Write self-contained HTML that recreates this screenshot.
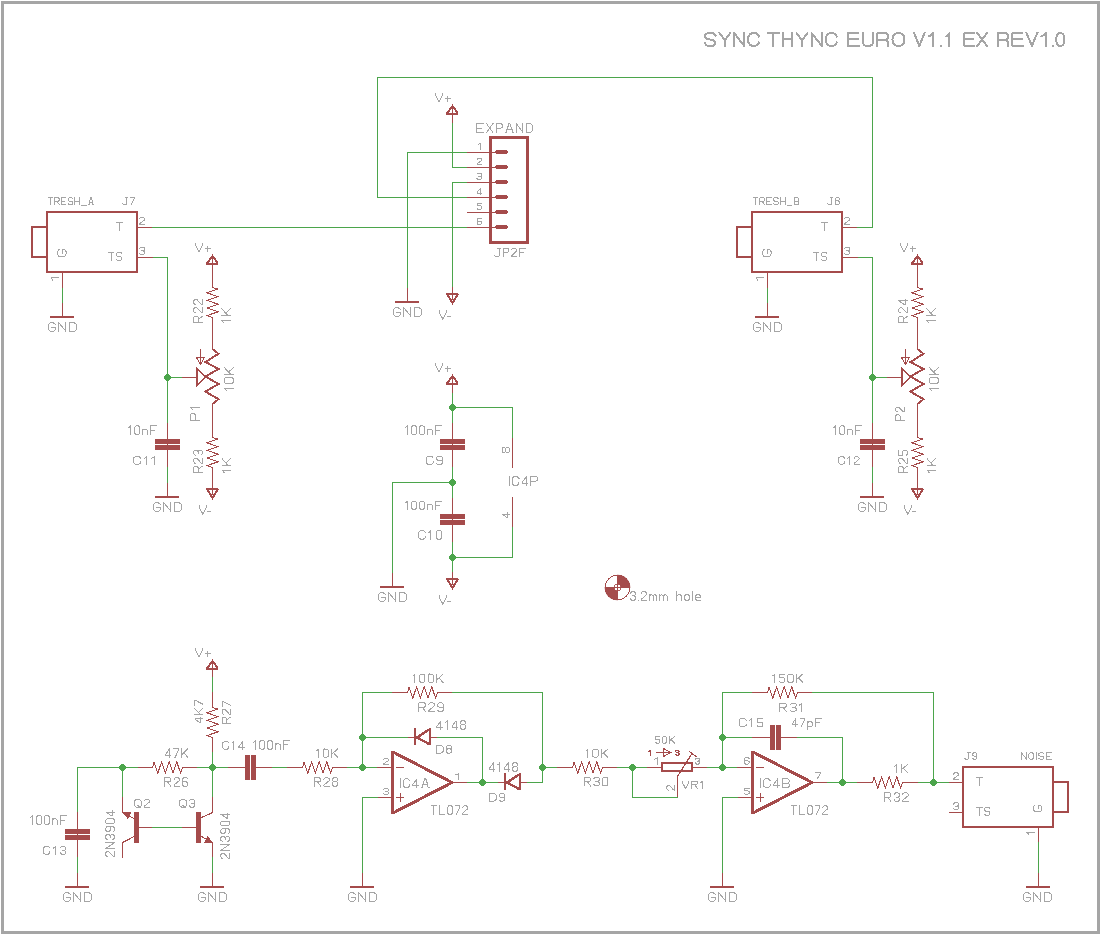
<!DOCTYPE html>
<html><head><meta charset="utf-8"><style>
html,body{margin:0;padding:0;background:#fff;}
body{width:1100px;height:935px;overflow:hidden;position:relative;}
svg{position:absolute;left:0;top:0;}
.t{position:absolute;font-family:"Liberation Sans",sans-serif;color:#A5A5A5;white-space:nowrap;}
</style></head><body>
<svg width="1100" height="935" viewBox="0 0 1100 935" shape-rendering="crispEdges">
<rect x="1" y="1" width="1099" height="3" fill="#A5A5A5"/>
<rect x="1" y="931" width="1099" height="3" fill="#A5A5A5"/>
<rect x="1" y="1" width="3" height="933" fill="#A5A5A5"/>
<rect x="1097" y="1" width="3" height="933" fill="#A5A5A5"/>
<rect x="46" y="211" width="92" height="2" fill="#A54B4B"/>
<rect x="46" y="271" width="92" height="2" fill="#A54B4B"/>
<rect x="46" y="211" width="2" height="62" fill="#A54B4B"/>
<rect x="136" y="211" width="2" height="62" fill="#A54B4B"/>
<rect x="31" y="226" width="17" height="2" fill="#A54B4B"/>
<rect x="31" y="256" width="17" height="2" fill="#A54B4B"/>
<rect x="31" y="226" width="2" height="32" fill="#A54B4B"/>
<rect x="137" y="227" width="16" height="1" fill="#A54B4B"/>
<rect x="137" y="257" width="16" height="1" fill="#A54B4B"/>
<rect x="62" y="272" width="1" height="16" fill="#A54B4B"/>
<path d="M48.10 197.70 L52.57 197.70 M50.34 197.70 L50.34 204.70 M54.81 204.70 L54.81 197.70 L58.38 197.70 L59.28 198.57 L59.28 200.32 L58.38 201.20 L54.81 201.20 M57.04 201.20 L59.28 204.70 M65.98 197.70 L61.51 197.70 L61.51 204.70 L65.98 204.70 M61.51 201.20 L64.64 201.20 M72.69 198.57 L71.79 197.70 L69.11 197.70 L68.22 198.57 L68.22 200.32 L69.11 201.20 L71.79 201.20 L72.69 202.07 L72.69 203.82 L71.79 204.70 L69.11 204.70 L68.22 203.82 M74.92 197.70 L74.92 204.70 M79.39 197.70 L79.39 204.70 M74.92 201.20 L79.39 201.20 M81.63 205.57 L86.10 205.57 M88.34 204.70 L89.05 204.70 L89.23 202.51 L90.66 197.70 L91.38 197.70 L92.81 202.51 L92.98 204.70 L93.70 204.70 M89.23 202.51 L92.81 202.51" fill="none" stroke="#A5A5A5" stroke-width="1.0" stroke-linecap="square" stroke-linejoin="round"/>
<path d="M125.17 197.70 L127.84 197.70 M126.60 197.70 L126.60 203.82 L125.58 204.70 L123.53 204.70 L122.50 203.65 M130.20 197.70 L134.30 197.70 L134.30 198.57 L131.22 204.70" fill="none" stroke="#A5A5A5" stroke-width="1.0" stroke-linecap="square" stroke-linejoin="round"/>
<path d="M116.50 222.30 L122.20 222.30 M119.35 222.30 L119.35 230.50" fill="none" stroke="#A5A5A5" stroke-width="1.0" stroke-linecap="square" stroke-linejoin="round"/>
<path d="M108.80 252.30 L113.96 252.30 M111.38 252.30 L111.38 260.50 M121.70 253.33 L120.67 252.30 L117.57 252.30 L116.54 253.33 L116.54 255.38 L117.57 256.40 L120.67 256.40 L121.70 257.43 L121.70 259.48 L120.67 260.50 L117.57 260.50 L116.54 259.48" fill="none" stroke="#A5A5A5" stroke-width="1.0" stroke-linecap="square" stroke-linejoin="round"/>
<path d="M59.09 249.50 L57.50 251.46 L57.50 254.40 L59.09 256.50 L64.41 256.50 L66.00 254.40 L66.00 251.46 L64.51 249.50 L62.28 249.50 L62.28 253.00" fill="none" stroke="#A5A5A5" stroke-width="1.0" stroke-linecap="square" stroke-linejoin="round"/>
<path d="M139.30 218.94 L139.30 218.40 L140.65 217.50 L143.35 217.50 L144.70 218.40 L144.70 220.02 L139.30 223.80 L139.30 224.70 L144.70 224.70" fill="none" stroke="#A5A5A5" stroke-width="1.0" stroke-linecap="square" stroke-linejoin="round"/>
<path d="M139.30 248.56 L140.65 247.30 L143.35 247.30 L144.70 248.20 L144.70 250.00 L143.35 250.90 L141.32 250.90 M143.35 250.90 L144.70 251.80 L144.70 253.60 L143.35 254.50 L140.65 254.50 L139.30 253.24" fill="none" stroke="#A5A5A5" stroke-width="1.0" stroke-linecap="square" stroke-linejoin="round"/>
<path d="M52.59 280.20 L51.47 277.20 M51.00 277.20 L58.50 277.20" fill="none" stroke="#A5A5A5" stroke-width="1.0" stroke-linecap="square" stroke-linejoin="round"/>
<rect x="62" y="288" width="1" height="15" fill="#4BA54B"/>
<rect x="62" y="303" width="1" height="15" fill="#A54B4B"/>
<rect x="50" y="316" width="24" height="2" fill="#A54B4B"/>
<path d="M55.35 324.39 L53.38 322.80 L50.41 322.80 L48.30 324.39 L48.30 329.71 L50.41 331.30 L53.38 331.30 L55.35 329.81 L55.35 327.58 L51.82 327.58 M58.88 331.30 L58.88 322.80 L65.92 331.30 L65.92 322.80 M69.45 322.80 L74.38 322.80 L76.50 324.39 L76.50 329.71 L74.38 331.30 L69.45 331.30 L69.45 322.80" fill="none" stroke="#A5A5A5" stroke-width="1.0" stroke-linecap="square" stroke-linejoin="round"/>
<rect x="153" y="257" width="15" height="1" fill="#4BA54B"/>
<rect x="167" y="257" width="1" height="166" fill="#4BA54B"/>
<rect x="167" y="377" width="16" height="1" fill="#4BA54B"/>
<rect x="166" y="374" width="3" height="1" fill="#4BA54B"/>
<rect x="165" y="375" width="5" height="1" fill="#4BA54B"/>
<rect x="164" y="376" width="7" height="3" fill="#4BA54B"/>
<rect x="165" y="379" width="5" height="1" fill="#4BA54B"/>
<rect x="166" y="380" width="3" height="1" fill="#4BA54B"/>
<rect x="167" y="423" width="1" height="44" fill="#A54B4B"/>
<rect x="155" y="439" width="25" height="5" fill="#A54B4B"/>
<rect x="155" y="445" width="25" height="5" fill="#A54B4B"/>
<rect x="167" y="467" width="1" height="16" fill="#4BA54B"/>
<rect x="167" y="483" width="1" height="15" fill="#A54B4B"/>
<rect x="155" y="496" width="24" height="2" fill="#A54B4B"/>
<path d="M160.35 504.39 L158.38 502.80 L155.42 502.80 L153.30 504.39 L153.30 509.71 L155.42 511.30 L158.38 511.30 L160.35 509.81 L160.35 507.58 L156.83 507.58 M163.88 511.30 L163.88 502.80 L170.93 511.30 L170.93 502.80 M174.45 502.80 L179.38 502.80 L181.50 504.39 L181.50 509.71 L179.38 511.30 L174.45 511.30 L174.45 502.80" fill="none" stroke="#A5A5A5" stroke-width="1.0" stroke-linecap="square" stroke-linejoin="round"/>
<path d="M128.50 427.69 L130.29 426.42 M130.29 425.90 L130.29 434.30 M136.02 425.90 L138.40 425.90 L139.60 426.95 L139.60 433.25 L138.40 434.30 L136.02 434.30 L134.82 433.25 L134.82 426.95 L136.02 425.90 M142.58 429.05 L142.58 434.30 M142.58 430.10 L143.77 429.05 L146.16 429.05 L147.35 430.10 L147.35 434.30 M156.30 425.90 L150.33 425.90 L150.33 434.30 M150.33 430.10 L154.51 430.10" fill="none" stroke="#A5A5A5" stroke-width="1.0" stroke-linecap="square" stroke-linejoin="round"/>
<path d="M140.67 458.24 L138.95 456.60 L135.65 456.60 L133.50 458.04 L133.50 462.86 L135.65 464.30 L138.52 464.30 L140.67 462.86 L140.67 461.89 M144.25 458.24 L146.40 457.08 M146.40 456.60 L146.40 464.30 M151.85 458.24 L154.00 457.08 M154.00 456.60 L154.00 464.30" fill="none" stroke="#A5A5A5" stroke-width="1.0" stroke-linecap="square" stroke-linejoin="round"/>
<rect x="212" y="256" width="1" height="17" fill="#A54B4B"/>
<rect x="206" y="263" width="12" height="2" fill="#A54B4B"/>
<polyline points="207.00,263.50 212.50,256.00 218.00,263.50" fill="none" stroke="#A54B4B" stroke-width="2.0" />
<path d="M195.70 243.50 L195.70 245.11 L198.99 252.10 L202.28 245.11 L202.28 243.50 M205.21 248.88 L210.50 248.88 M207.86 246.19 L207.86 251.56" fill="none" stroke="#A5A5A5" stroke-width="1.0" stroke-linecap="square" stroke-linejoin="round"/>
<rect x="212" y="272" width="1" height="16" fill="#A54B4B"/>
<polyline points="212.50,287.50 218.10,289.00 206.90,292.80 218.10,296.60 206.90,300.40 218.10,304.20 206.90,308.00 218.10,311.80 206.90,315.60 212.50,317.50" fill="none" stroke="#A54B4B" stroke-width="1.0" />
<rect x="212" y="317" width="1" height="33" fill="#A54B4B"/>
<polyline points="212.50,349.00 218.50,353.80 205.50,362.00 218.50,369.00 205.50,376.60 218.50,384.00 205.50,391.60 218.50,399.20 212.50,404.00" fill="none" stroke="#A54B4B" stroke-width="2.0" />
<rect x="212" y="404" width="1" height="34" fill="#A54B4B"/>
<polyline points="212.50,437.50 218.10,439.00 206.90,442.80 218.10,446.60 206.90,450.40 218.10,454.20 206.90,458.00 218.10,461.80 206.90,465.60 212.50,467.50" fill="none" stroke="#A54B4B" stroke-width="1.0" />
<rect x="212" y="467" width="1" height="16" fill="#A54B4B"/>
<rect x="212" y="482" width="1" height="13" fill="#A54B4B"/>
<rect x="206" y="488" width="12" height="2" fill="#A54B4B"/>
<polyline points="207.00,489.00 212.50,498.00 218.00,489.00" fill="none" stroke="#A54B4B" stroke-width="2.0" />
<path d="M199.30 505.70 L199.30 507.27 L202.78 514.10 L206.27 507.27 L206.27 505.70 M207.76 511.48 L210.50 511.48" fill="none" stroke="#A5A5A5" stroke-width="1.0" stroke-linecap="square" stroke-linejoin="round"/>
<rect x="182" y="377" width="15" height="1" fill="#A54B4B"/>
<polygon points="197.00,368.50 197.00,385.50 205.50,377.00" fill="none" stroke="#A54B4B" stroke-width="2.0" />
<rect x="200" y="349" width="1" height="15" fill="#A54B4B"/>
<polygon points="196.50,357.50 204.50,357.50 200.50,364.50" fill="none" stroke="#A54B4B" stroke-width="1.0" />
<path d="M202.80 322.40 L193.70 322.40 L193.70 317.31 L194.84 316.04 L197.11 316.04 L198.25 317.31 L198.25 322.40 M198.25 319.22 L202.80 316.04 M195.52 312.86 L194.84 312.86 L193.70 311.59 L193.70 309.04 L194.84 307.77 L196.88 307.77 L201.66 312.86 L202.80 312.86 L202.80 307.77 M195.52 304.59 L194.84 304.59 L193.70 303.32 L193.70 300.77 L194.84 299.50 L196.88 299.50 L201.66 304.59 L202.80 304.59 L202.80 299.50" fill="none" stroke="#A5A5A5" stroke-width="1.0" stroke-linecap="square" stroke-linejoin="round"/>
<path d="M223.43 322.50 L222.07 320.46 M221.50 320.46 L230.60 320.46 M221.50 315.30 L230.60 315.30 M221.50 308.50 L227.76 315.30 M225.82 312.85 L230.60 308.50" fill="none" stroke="#A5A5A5" stroke-width="1.0" stroke-linecap="square" stroke-linejoin="round"/>
<path d="M226.25 390.50 L224.88 388.45 M224.30 388.45 L233.50 388.45 M224.30 381.88 L224.30 379.14 L225.45 377.77 L232.35 377.77 L233.50 379.14 L233.50 381.88 L232.35 383.24 L225.45 383.24 L224.30 381.88 M224.30 374.35 L233.50 374.35 M224.30 367.50 L230.62 374.35 M228.67 371.88 L233.50 367.50" fill="none" stroke="#A5A5A5" stroke-width="1.0" stroke-linecap="square" stroke-linejoin="round"/>
<path d="M199.50 420.40 L190.60 420.40 L190.60 414.58 L191.71 413.12 L193.94 413.12 L195.05 414.58 L195.05 420.40 M192.49 409.48 L191.16 407.30 M190.60 407.30 L199.50 407.30" fill="none" stroke="#A5A5A5" stroke-width="1.0" stroke-linecap="square" stroke-linejoin="round"/>
<path d="M202.40 472.40 L193.70 472.40 L193.70 467.47 L194.79 466.23 L196.96 466.23 L198.05 467.47 L198.05 472.40 M198.05 469.32 L202.40 466.23 M195.44 463.15 L194.79 463.15 L193.70 461.92 L193.70 459.45 L194.79 458.22 L196.75 458.22 L201.31 463.15 L202.40 463.15 L202.40 458.22 M195.22 455.13 L193.70 453.90 L193.70 451.43 L194.79 450.20 L196.96 450.20 L198.05 451.43 L198.05 453.28 M198.05 451.43 L199.14 450.20 L201.31 450.20 L202.40 451.43 L202.40 453.90 L200.88 455.13" fill="none" stroke="#A5A5A5" stroke-width="1.0" stroke-linecap="square" stroke-linejoin="round"/>
<path d="M223.88 472.40 L222.62 470.40 M222.10 470.40 L230.50 470.40 M222.10 465.35 L230.50 465.35 M222.10 458.70 L227.88 465.35 M226.09 462.96 L230.50 458.70" fill="none" stroke="#A5A5A5" stroke-width="1.0" stroke-linecap="square" stroke-linejoin="round"/>
<rect x="751" y="211" width="92" height="2" fill="#A54B4B"/>
<rect x="751" y="271" width="92" height="2" fill="#A54B4B"/>
<rect x="751" y="211" width="2" height="62" fill="#A54B4B"/>
<rect x="841" y="211" width="2" height="62" fill="#A54B4B"/>
<rect x="736" y="226" width="17" height="2" fill="#A54B4B"/>
<rect x="736" y="256" width="17" height="2" fill="#A54B4B"/>
<rect x="736" y="226" width="2" height="32" fill="#A54B4B"/>
<rect x="842" y="227" width="16" height="1" fill="#A54B4B"/>
<rect x="842" y="257" width="16" height="1" fill="#A54B4B"/>
<rect x="767" y="272" width="1" height="16" fill="#A54B4B"/>
<path d="M753.10 197.70 L757.66 197.70 M755.38 197.70 L755.38 204.70 M759.94 204.70 L759.94 197.70 L763.59 197.70 L764.50 198.57 L764.50 200.32 L763.59 201.20 L759.94 201.20 M762.22 201.20 L764.50 204.70 M771.34 197.70 L766.78 197.70 L766.78 204.70 L771.34 204.70 M766.78 201.20 L769.97 201.20 M778.18 198.57 L777.27 197.70 L774.53 197.70 L773.62 198.57 L773.62 200.32 L774.53 201.20 L777.27 201.20 L778.18 202.07 L778.18 203.82 L777.27 204.70 L774.53 204.70 L773.62 203.82 M780.46 197.70 L780.46 204.70 M785.02 197.70 L785.02 204.70 M780.46 201.20 L785.02 201.20 M787.30 205.57 L791.86 205.57 M794.14 204.70 L794.14 197.70 L797.79 197.70 L798.70 198.57 L798.70 200.32 L797.79 201.20 L794.14 201.20 M797.79 201.20 L798.70 202.07 L798.70 203.82 L797.79 204.70 L794.14 204.70" fill="none" stroke="#A5A5A5" stroke-width="1.0" stroke-linecap="square" stroke-linejoin="round"/>
<path d="M830.17 197.70 L832.84 197.70 M831.60 197.70 L831.60 203.82 L830.58 204.70 L828.53 204.70 L827.50 203.65 M836.22 200.85 L835.20 199.97 L835.20 198.49 L836.12 197.70 L838.38 197.70 L839.30 198.49 L839.30 199.97 L838.27 200.85 L836.22 200.85 L835.20 201.81 L835.20 203.82 L836.22 204.70 L838.27 204.70 L839.30 203.82 L839.30 201.81 L838.27 200.85" fill="none" stroke="#A5A5A5" stroke-width="1.0" stroke-linecap="square" stroke-linejoin="round"/>
<path d="M821.50 222.30 L827.20 222.30 M824.35 222.30 L824.35 230.50" fill="none" stroke="#A5A5A5" stroke-width="1.0" stroke-linecap="square" stroke-linejoin="round"/>
<path d="M813.80 252.30 L818.96 252.30 M816.38 252.30 L816.38 260.50 M826.70 253.33 L825.67 252.30 L822.57 252.30 L821.54 253.33 L821.54 255.38 L822.57 256.40 L825.67 256.40 L826.70 257.43 L826.70 259.48 L825.67 260.50 L822.57 260.50 L821.54 259.48" fill="none" stroke="#A5A5A5" stroke-width="1.0" stroke-linecap="square" stroke-linejoin="round"/>
<path d="M764.09 249.50 L762.50 251.46 L762.50 254.40 L764.09 256.50 L769.41 256.50 L771.00 254.40 L771.00 251.46 L769.51 249.50 L767.28 249.50 L767.28 253.00" fill="none" stroke="#A5A5A5" stroke-width="1.0" stroke-linecap="square" stroke-linejoin="round"/>
<path d="M844.30 218.94 L844.30 218.40 L845.65 217.50 L848.35 217.50 L849.70 218.40 L849.70 220.02 L844.30 223.80 L844.30 224.70 L849.70 224.70" fill="none" stroke="#A5A5A5" stroke-width="1.0" stroke-linecap="square" stroke-linejoin="round"/>
<path d="M844.30 248.56 L845.65 247.30 L848.35 247.30 L849.70 248.20 L849.70 250.00 L848.35 250.90 L846.33 250.90 M848.35 250.90 L849.70 251.80 L849.70 253.60 L848.35 254.50 L845.65 254.50 L844.30 253.24" fill="none" stroke="#A5A5A5" stroke-width="1.0" stroke-linecap="square" stroke-linejoin="round"/>
<path d="M757.59 280.20 L756.47 277.20 M756.00 277.20 L763.50 277.20" fill="none" stroke="#A5A5A5" stroke-width="1.0" stroke-linecap="square" stroke-linejoin="round"/>
<rect x="767" y="288" width="1" height="15" fill="#4BA54B"/>
<rect x="767" y="303" width="1" height="15" fill="#A54B4B"/>
<rect x="755" y="316" width="24" height="2" fill="#A54B4B"/>
<path d="M760.35 324.39 L758.38 322.80 L755.41 322.80 L753.30 324.39 L753.30 329.71 L755.41 331.30 L758.38 331.30 L760.35 329.81 L760.35 327.58 L756.82 327.58 M763.88 331.30 L763.88 322.80 L770.92 331.30 L770.92 322.80 M774.45 322.80 L779.38 322.80 L781.50 324.39 L781.50 329.71 L779.38 331.30 L774.45 331.30 L774.45 322.80" fill="none" stroke="#A5A5A5" stroke-width="1.0" stroke-linecap="square" stroke-linejoin="round"/>
<rect x="858" y="257" width="15" height="1" fill="#4BA54B"/>
<rect x="872" y="257" width="1" height="166" fill="#4BA54B"/>
<rect x="872" y="377" width="16" height="1" fill="#4BA54B"/>
<rect x="871" y="374" width="3" height="1" fill="#4BA54B"/>
<rect x="870" y="375" width="5" height="1" fill="#4BA54B"/>
<rect x="869" y="376" width="7" height="3" fill="#4BA54B"/>
<rect x="870" y="379" width="5" height="1" fill="#4BA54B"/>
<rect x="871" y="380" width="3" height="1" fill="#4BA54B"/>
<rect x="872" y="423" width="1" height="44" fill="#A54B4B"/>
<rect x="860" y="439" width="25" height="5" fill="#A54B4B"/>
<rect x="860" y="445" width="25" height="5" fill="#A54B4B"/>
<rect x="872" y="467" width="1" height="16" fill="#4BA54B"/>
<rect x="872" y="483" width="1" height="15" fill="#A54B4B"/>
<rect x="860" y="496" width="24" height="2" fill="#A54B4B"/>
<path d="M865.35 504.39 L863.38 502.80 L860.41 502.80 L858.30 504.39 L858.30 509.71 L860.41 511.30 L863.38 511.30 L865.35 509.81 L865.35 507.58 L861.82 507.58 M868.88 511.30 L868.88 502.80 L875.92 511.30 L875.92 502.80 M879.45 502.80 L884.38 502.80 L886.50 504.39 L886.50 509.71 L884.38 511.30 L879.45 511.30 L879.45 502.80" fill="none" stroke="#A5A5A5" stroke-width="1.0" stroke-linecap="square" stroke-linejoin="round"/>
<path d="M833.50 427.69 L835.29 426.42 M835.29 425.90 L835.29 434.30 M841.02 425.90 L843.40 425.90 L844.60 426.95 L844.60 433.25 L843.40 434.30 L841.02 434.30 L839.82 433.25 L839.82 426.95 L841.02 425.90 M847.58 429.05 L847.58 434.30 M847.58 430.10 L848.77 429.05 L851.16 429.05 L852.35 430.10 L852.35 434.30 M861.30 425.90 L855.33 425.90 L855.33 434.30 M855.33 430.10 L859.51 430.10" fill="none" stroke="#A5A5A5" stroke-width="1.0" stroke-linecap="square" stroke-linejoin="round"/>
<path d="M844.60 458.24 L843.14 456.60 L840.33 456.60 L838.50 458.04 L838.50 462.86 L840.33 464.30 L842.77 464.30 L844.60 462.86 L844.60 461.89 M847.65 458.24 L849.48 457.08 M849.48 456.60 L849.48 464.30 M854.12 458.14 L854.12 457.56 L855.34 456.60 L857.78 456.60 L859.00 457.56 L859.00 459.30 L854.12 463.34 L854.12 464.30 L859.00 464.30" fill="none" stroke="#A5A5A5" stroke-width="1.0" stroke-linecap="square" stroke-linejoin="round"/>
<rect x="917" y="256" width="1" height="17" fill="#A54B4B"/>
<rect x="911" y="263" width="12" height="2" fill="#A54B4B"/>
<polyline points="912.00,263.50 917.50,256.00 923.00,263.50" fill="none" stroke="#A54B4B" stroke-width="2.0" />
<path d="M900.70 243.50 L900.70 245.11 L903.99 252.10 L907.28 245.11 L907.28 243.50 M910.21 248.88 L915.50 248.88 M912.86 246.19 L912.86 251.56" fill="none" stroke="#A5A5A5" stroke-width="1.0" stroke-linecap="square" stroke-linejoin="round"/>
<rect x="917" y="272" width="1" height="16" fill="#A54B4B"/>
<polyline points="917.50,287.50 923.10,289.00 911.90,292.80 923.10,296.60 911.90,300.40 923.10,304.20 911.90,308.00 923.10,311.80 911.90,315.60 917.50,317.50" fill="none" stroke="#A54B4B" stroke-width="1.0" />
<rect x="917" y="317" width="1" height="33" fill="#A54B4B"/>
<polyline points="917.50,349.00 923.50,353.80 910.50,362.00 923.50,369.00 910.50,376.60 923.50,384.00 910.50,391.60 923.50,399.20 917.50,404.00" fill="none" stroke="#A54B4B" stroke-width="2.0" />
<rect x="917" y="404" width="1" height="34" fill="#A54B4B"/>
<polyline points="917.50,437.50 923.10,439.00 911.90,442.80 923.10,446.60 911.90,450.40 923.10,454.20 911.90,458.00 923.10,461.80 911.90,465.60 917.50,467.50" fill="none" stroke="#A54B4B" stroke-width="1.0" />
<rect x="917" y="467" width="1" height="16" fill="#A54B4B"/>
<rect x="917" y="482" width="1" height="13" fill="#A54B4B"/>
<rect x="911" y="488" width="12" height="2" fill="#A54B4B"/>
<polyline points="912.00,489.00 917.50,498.00 923.00,489.00" fill="none" stroke="#A54B4B" stroke-width="2.0" />
<path d="M904.30 505.70 L904.30 507.27 L907.78 514.10 L911.27 507.27 L911.27 505.70 M912.76 511.48 L915.50 511.48" fill="none" stroke="#A5A5A5" stroke-width="1.0" stroke-linecap="square" stroke-linejoin="round"/>
<rect x="887" y="377" width="15" height="1" fill="#A54B4B"/>
<polygon points="902.00,368.50 902.00,385.50 910.50,377.00" fill="none" stroke="#A54B4B" stroke-width="2.0" />
<rect x="905" y="349" width="1" height="15" fill="#A54B4B"/>
<polygon points="901.50,357.50 909.50,357.50 905.50,364.50" fill="none" stroke="#A54B4B" stroke-width="1.0" />
<path d="M907.80 322.40 L898.70 322.40 L898.70 317.37 L899.84 316.11 L902.11 316.11 L903.25 317.37 L903.25 322.40 M903.25 319.25 L907.80 316.11 M900.52 312.96 L899.84 312.96 L898.70 311.70 L898.70 309.19 L899.84 307.93 L901.88 307.93 L906.66 312.96 L907.80 312.96 L907.80 307.93 M907.80 300.76 L898.70 300.76 L904.62 304.78 L905.75 304.78 L905.75 299.50" fill="none" stroke="#A5A5A5" stroke-width="1.0" stroke-linecap="square" stroke-linejoin="round"/>
<path d="M928.43 322.50 L927.07 320.46 M926.50 320.46 L935.60 320.46 M926.50 315.30 L935.60 315.30 M926.50 308.50 L932.76 315.30 M930.82 312.85 L935.60 308.50" fill="none" stroke="#A5A5A5" stroke-width="1.0" stroke-linecap="square" stroke-linejoin="round"/>
<path d="M931.25 390.50 L929.88 388.45 M929.30 388.45 L938.50 388.45 M929.30 381.88 L929.30 379.14 L930.45 377.77 L937.35 377.77 L938.50 379.14 L938.50 381.88 L937.35 383.24 L930.45 383.24 L929.30 381.88 M929.30 374.35 L938.50 374.35 M929.30 367.50 L935.62 374.35 M933.67 371.88 L938.50 367.50" fill="none" stroke="#A5A5A5" stroke-width="1.0" stroke-linecap="square" stroke-linejoin="round"/>
<path d="M904.50 420.40 L895.60 420.40 L895.60 415.84 L896.71 414.70 L898.94 414.70 L900.05 415.84 L900.05 420.40 M897.38 411.86 L896.71 411.86 L895.60 410.72 L895.60 408.44 L896.71 407.30 L898.72 407.30 L903.39 411.86 L904.50 411.86 L904.50 407.30" fill="none" stroke="#A5A5A5" stroke-width="1.0" stroke-linecap="square" stroke-linejoin="round"/>
<path d="M907.40 472.40 L898.70 472.40 L898.70 467.47 L899.79 466.23 L901.96 466.23 L903.05 467.47 L903.05 472.40 M903.05 469.32 L907.40 466.23 M900.44 463.15 L899.79 463.15 L898.70 461.92 L898.70 459.45 L899.79 458.22 L901.75 458.22 L906.31 463.15 L907.40 463.15 L907.40 458.22 M898.70 450.20 L898.70 455.13 L902.51 455.13 L902.51 451.43 L903.59 450.20 L906.31 450.20 L907.40 451.43 L907.40 453.90 L906.31 455.13" fill="none" stroke="#A5A5A5" stroke-width="1.0" stroke-linecap="square" stroke-linejoin="round"/>
<path d="M928.88 472.40 L927.62 470.40 M927.10 470.40 L935.50 470.40 M927.10 465.35 L935.50 465.35 M927.10 458.70 L932.88 465.35 M931.09 462.96 L935.50 458.70" fill="none" stroke="#A5A5A5" stroke-width="1.0" stroke-linecap="square" stroke-linejoin="round"/>
<rect x="857" y="227" width="16" height="1" fill="#4BA54B"/>
<rect x="872" y="77" width="1" height="151" fill="#4BA54B"/>
<rect x="377" y="77" width="496" height="1" fill="#4BA54B"/>
<rect x="377" y="77" width="1" height="121" fill="#4BA54B"/>
<rect x="489" y="136" width="40" height="3" fill="#A54B4B"/>
<rect x="489" y="241" width="40" height="3" fill="#A54B4B"/>
<rect x="489" y="136" width="3" height="108" fill="#A54B4B"/>
<rect x="526" y="136" width="3" height="108" fill="#A54B4B"/>
<rect x="467" y="152" width="30" height="1" fill="#A54B4B"/>
<rect x="496" y="150" width="11" height="1" fill="#A54B4B"/>
<rect x="495" y="151" width="13" height="2" fill="#A54B4B"/>
<rect x="496" y="153" width="11" height="1" fill="#A54B4B"/>
<path d="M478.30 144.46 L480.50 143.50 M480.50 143.10 L480.50 149.50" fill="none" stroke="#A5A5A5" stroke-width="1.0" stroke-linecap="square" stroke-linejoin="round"/>
<rect x="467" y="167" width="30" height="1" fill="#A54B4B"/>
<rect x="496" y="165" width="11" height="1" fill="#A54B4B"/>
<rect x="495" y="166" width="13" height="2" fill="#A54B4B"/>
<rect x="496" y="168" width="11" height="1" fill="#A54B4B"/>
<path d="M477.00 159.38 L477.00 158.90 L478.18 158.10 L480.52 158.10 L481.70 158.90 L481.70 160.34 L477.00 163.70 L477.00 164.50 L481.70 164.50" fill="none" stroke="#A5A5A5" stroke-width="1.0" stroke-linecap="square" stroke-linejoin="round"/>
<rect x="467" y="182" width="30" height="1" fill="#A54B4B"/>
<rect x="496" y="180" width="11" height="1" fill="#A54B4B"/>
<rect x="495" y="181" width="13" height="2" fill="#A54B4B"/>
<rect x="496" y="183" width="11" height="1" fill="#A54B4B"/>
<path d="M477.00 174.22 L478.18 173.10 L480.52 173.10 L481.70 173.90 L481.70 175.50 L480.52 176.30 L478.76 176.30 M480.52 176.30 L481.70 177.10 L481.70 178.70 L480.52 179.50 L478.18 179.50 L477.00 178.38" fill="none" stroke="#A5A5A5" stroke-width="1.0" stroke-linecap="square" stroke-linejoin="round"/>
<rect x="467" y="197" width="30" height="1" fill="#A54B4B"/>
<rect x="496" y="195" width="11" height="1" fill="#A54B4B"/>
<rect x="495" y="196" width="13" height="2" fill="#A54B4B"/>
<rect x="496" y="198" width="11" height="1" fill="#A54B4B"/>
<path d="M480.58 194.50 L480.58 188.10 L477.00 192.26 L477.00 193.06 L481.70 193.06" fill="none" stroke="#A5A5A5" stroke-width="1.0" stroke-linecap="square" stroke-linejoin="round"/>
<rect x="467" y="212" width="30" height="1" fill="#A54B4B"/>
<rect x="496" y="210" width="11" height="1" fill="#A54B4B"/>
<rect x="495" y="211" width="13" height="2" fill="#A54B4B"/>
<rect x="496" y="213" width="11" height="1" fill="#A54B4B"/>
<path d="M481.70 203.10 L477.00 203.10 L477.00 205.90 L480.52 205.90 L481.70 206.70 L481.70 208.70 L480.52 209.50 L478.18 209.50 L477.00 208.70" fill="none" stroke="#A5A5A5" stroke-width="1.0" stroke-linecap="square" stroke-linejoin="round"/>
<rect x="467" y="227" width="30" height="1" fill="#A54B4B"/>
<rect x="496" y="225" width="11" height="1" fill="#A54B4B"/>
<rect x="495" y="226" width="13" height="2" fill="#A54B4B"/>
<rect x="496" y="228" width="11" height="1" fill="#A54B4B"/>
<path d="M481.70 218.90 L480.52 218.10 L478.18 218.10 L477.00 218.90 L477.00 223.70 L478.18 224.50 L480.52 224.50 L481.70 223.70 L481.70 222.10 L480.52 221.30 L477.00 221.30" fill="none" stroke="#A5A5A5" stroke-width="1.0" stroke-linecap="square" stroke-linejoin="round"/>
<path d="M483.29 123.60 L476.90 123.60 L476.90 132.50 L483.29 132.50 M476.90 128.05 L481.37 128.05 M486.49 123.60 L492.88 132.50 M492.88 123.60 L486.49 132.50 M496.07 132.50 L496.07 123.60 L501.19 123.60 L502.46 124.71 L502.46 126.94 L501.19 128.05 L496.07 128.05 M505.66 132.50 L506.68 132.50 L506.94 129.72 L508.98 123.60 L510.00 123.60 L512.05 129.72 L512.31 132.50 L513.33 132.50 M506.94 129.72 L512.05 129.72 M516.52 132.50 L516.52 123.60 L522.91 132.50 L522.91 123.60 M526.11 123.60 L530.58 123.60 L532.50 125.27 L532.50 130.83 L530.58 132.50 L526.11 132.50 L526.11 123.60" fill="none" stroke="#A5A5A5" stroke-width="1.0" stroke-linecap="square" stroke-linejoin="round"/>
<path d="M497.49 248.10 L500.48 248.10 M499.10 248.10 L499.10 255.71 L497.95 256.80 L495.65 256.80 L494.50 255.50 M503.13 256.80 L503.13 248.10 L507.74 248.10 L508.89 249.19 L508.89 251.36 L507.74 252.45 L503.13 252.45 M511.76 249.84 L511.76 249.19 L512.92 248.10 L515.22 248.10 L516.37 249.19 L516.37 251.15 L511.76 255.71 L511.76 256.80 L516.37 256.80 M525.00 248.10 L519.25 248.10 L519.25 256.80 M519.25 252.45 L523.27 252.45" fill="none" stroke="#A5A5A5" stroke-width="1.0" stroke-linecap="square" stroke-linejoin="round"/>
<rect x="152" y="227" width="315" height="1" fill="#4BA54B"/>
<rect x="377" y="197" width="90" height="1" fill="#4BA54B"/>
<rect x="407" y="152" width="60" height="1" fill="#4BA54B"/>
<rect x="407" y="152" width="1" height="136" fill="#4BA54B"/>
<rect x="407" y="288" width="1" height="15" fill="#A54B4B"/>
<rect x="395" y="301" width="24" height="2" fill="#A54B4B"/>
<path d="M400.35 309.39 L398.38 307.80 L395.42 307.80 L393.30 309.39 L393.30 314.71 L395.42 316.30 L398.38 316.30 L400.35 314.81 L400.35 312.58 L396.82 312.58 M403.88 316.30 L403.88 307.80 L410.93 316.30 L410.93 307.80 M414.45 307.80 L419.38 307.80 L421.50 309.39 L421.50 314.71 L419.38 316.30 L414.45 316.30 L414.45 307.80" fill="none" stroke="#A5A5A5" stroke-width="1.0" stroke-linecap="square" stroke-linejoin="round"/>
<rect x="452" y="167" width="15" height="1" fill="#4BA54B"/>
<rect x="452" y="122" width="1" height="46" fill="#4BA54B"/>
<rect x="452" y="106" width="1" height="17" fill="#A54B4B"/>
<rect x="446" y="113" width="12" height="2" fill="#A54B4B"/>
<polyline points="447.00,113.50 452.50,106.00 458.00,113.50" fill="none" stroke="#A54B4B" stroke-width="2.0" />
<path d="M435.70 93.50 L435.70 95.11 L438.99 102.10 L442.28 95.11 L442.28 93.50 M445.21 98.88 L450.50 98.88 M447.86 96.19 L447.86 101.56" fill="none" stroke="#A5A5A5" stroke-width="1.0" stroke-linecap="square" stroke-linejoin="round"/>
<rect x="452" y="182" width="15" height="1" fill="#4BA54B"/>
<rect x="452" y="182" width="1" height="106" fill="#4BA54B"/>
<rect x="452" y="287" width="1" height="13" fill="#A54B4B"/>
<rect x="446" y="293" width="12" height="2" fill="#A54B4B"/>
<polyline points="447.00,294.00 452.50,303.00 458.00,294.00" fill="none" stroke="#A54B4B" stroke-width="2.0" />
<path d="M439.30 310.70 L439.30 312.27 L442.78 319.10 L446.27 312.27 L446.27 310.70 M447.76 316.48 L450.50 316.48" fill="none" stroke="#A5A5A5" stroke-width="1.0" stroke-linecap="square" stroke-linejoin="round"/>
<rect x="452" y="376" width="1" height="17" fill="#A54B4B"/>
<rect x="446" y="383" width="12" height="2" fill="#A54B4B"/>
<polyline points="447.00,383.50 452.50,376.00 458.00,383.50" fill="none" stroke="#A54B4B" stroke-width="2.0" />
<path d="M435.70 363.50 L435.70 365.11 L438.99 372.10 L442.28 365.11 L442.28 363.50 M445.21 368.88 L450.50 368.88 M447.86 366.19 L447.86 371.56" fill="none" stroke="#A5A5A5" stroke-width="1.0" stroke-linecap="square" stroke-linejoin="round"/>
<rect x="452" y="393" width="1" height="30" fill="#4BA54B"/>
<rect x="451" y="404" width="3" height="1" fill="#4BA54B"/>
<rect x="450" y="405" width="5" height="1" fill="#4BA54B"/>
<rect x="449" y="406" width="7" height="3" fill="#4BA54B"/>
<rect x="450" y="409" width="5" height="1" fill="#4BA54B"/>
<rect x="451" y="410" width="3" height="1" fill="#4BA54B"/>
<rect x="452" y="423" width="1" height="44" fill="#A54B4B"/>
<rect x="440" y="439" width="25" height="5" fill="#A54B4B"/>
<rect x="440" y="445" width="25" height="5" fill="#A54B4B"/>
<rect x="452" y="467" width="1" height="31" fill="#4BA54B"/>
<rect x="451" y="479" width="3" height="1" fill="#4BA54B"/>
<rect x="450" y="480" width="5" height="1" fill="#4BA54B"/>
<rect x="449" y="481" width="7" height="3" fill="#4BA54B"/>
<rect x="450" y="484" width="5" height="1" fill="#4BA54B"/>
<rect x="451" y="485" width="3" height="1" fill="#4BA54B"/>
<rect x="452" y="498" width="1" height="44" fill="#A54B4B"/>
<rect x="440" y="514" width="25" height="5" fill="#A54B4B"/>
<rect x="440" y="520" width="25" height="5" fill="#A54B4B"/>
<rect x="452" y="542" width="1" height="31" fill="#4BA54B"/>
<rect x="451" y="554" width="3" height="1" fill="#4BA54B"/>
<rect x="450" y="555" width="5" height="1" fill="#4BA54B"/>
<rect x="449" y="556" width="7" height="3" fill="#4BA54B"/>
<rect x="450" y="559" width="5" height="1" fill="#4BA54B"/>
<rect x="451" y="560" width="3" height="1" fill="#4BA54B"/>
<rect x="452" y="572" width="1" height="13" fill="#A54B4B"/>
<rect x="446" y="578" width="12" height="2" fill="#A54B4B"/>
<polyline points="447.00,579.00 452.50,588.00 458.00,579.00" fill="none" stroke="#A54B4B" stroke-width="2.0" />
<path d="M439.30 595.70 L439.30 597.28 L442.78 604.10 L446.27 597.28 L446.27 595.70 M447.76 601.48 L450.50 601.48" fill="none" stroke="#A5A5A5" stroke-width="1.0" stroke-linecap="square" stroke-linejoin="round"/>
<rect x="452" y="407" width="61" height="1" fill="#4BA54B"/>
<rect x="512" y="407" width="1" height="31" fill="#4BA54B"/>
<rect x="512" y="438" width="1" height="30" fill="#A54B4B"/>
<rect x="452" y="557" width="61" height="1" fill="#4BA54B"/>
<rect x="512" y="527" width="1" height="31" fill="#4BA54B"/>
<rect x="512" y="497" width="1" height="30" fill="#A54B4B"/>
<rect x="392" y="482" width="61" height="1" fill="#4BA54B"/>
<rect x="392" y="482" width="1" height="91" fill="#4BA54B"/>
<rect x="392" y="573" width="1" height="15" fill="#A54B4B"/>
<rect x="380" y="586" width="24" height="2" fill="#A54B4B"/>
<path d="M385.35 594.39 L383.38 592.80 L380.42 592.80 L378.30 594.39 L378.30 599.71 L380.42 601.30 L383.38 601.30 L385.35 599.81 L385.35 597.58 L381.82 597.58 M388.88 601.30 L388.88 592.80 L395.93 601.30 L395.93 592.80 M399.45 592.80 L404.38 592.80 L406.50 594.39 L406.50 599.71 L404.38 601.30 L399.45 601.30 L399.45 592.80" fill="none" stroke="#A5A5A5" stroke-width="1.0" stroke-linecap="square" stroke-linejoin="round"/>
<path d="M405.20 427.73 L407.02 426.44 M407.02 425.90 L407.02 434.50 M412.85 425.90 L415.28 425.90 L416.50 426.97 L416.50 433.43 L415.28 434.50 L412.85 434.50 L411.64 433.43 L411.64 426.97 L412.85 425.90 M420.75 425.90 L423.18 425.90 L424.39 426.97 L424.39 433.43 L423.18 434.50 L420.75 434.50 L419.53 433.43 L419.53 426.97 L420.75 425.90 M427.43 429.12 L427.43 434.50 M427.43 430.20 L428.64 429.12 L431.07 429.12 L432.29 430.20 L432.29 434.50 M441.40 425.90 L435.33 425.90 L435.33 434.50 M435.33 430.20 L439.58 430.20" fill="none" stroke="#A5A5A5" stroke-width="1.0" stroke-linecap="square" stroke-linejoin="round"/>
<path d="M433.11 457.88 L431.45 456.10 L428.27 456.10 L426.20 457.68 L426.20 462.93 L428.27 464.50 L431.04 464.50 L433.11 462.93 L433.11 461.88 M442.10 460.30 L437.95 460.30 L436.57 459.25 L436.57 457.15 L437.95 456.10 L440.72 456.10 L442.10 457.15 L442.10 463.45 L440.72 464.50 L437.95 464.50 L436.57 463.45" fill="none" stroke="#A5A5A5" stroke-width="1.0" stroke-linecap="square" stroke-linejoin="round"/>
<path d="M405.20 502.90 L407.02 501.70 M407.02 501.20 L407.02 509.20 M412.85 501.20 L415.28 501.20 L416.50 502.20 L416.50 508.20 L415.28 509.20 L412.85 509.20 L411.64 508.20 L411.64 502.20 L412.85 501.20 M420.75 501.20 L423.18 501.20 L424.39 502.20 L424.39 508.20 L423.18 509.20 L420.75 509.20 L419.53 508.20 L419.53 502.20 L420.75 501.20 M427.43 504.20 L427.43 509.20 M427.43 505.20 L428.64 504.20 L431.07 504.20 L432.29 505.20 L432.29 509.20 M441.40 501.20 L435.33 501.20 L435.33 509.20 M435.33 505.20 L439.58 505.20" fill="none" stroke="#A5A5A5" stroke-width="1.0" stroke-linecap="square" stroke-linejoin="round"/>
<path d="M425.33 532.49 L423.67 530.70 L420.48 530.70 L418.40 532.28 L418.40 537.52 L420.48 539.10 L423.25 539.10 L425.33 537.52 L425.33 536.48 M428.80 532.49 L430.88 531.23 M430.88 530.70 L430.88 539.10 M437.54 530.70 L440.31 530.70 L441.70 531.75 L441.70 538.05 L440.31 539.10 L437.54 539.10 L436.15 538.05 L436.15 531.75 L437.54 530.70" fill="none" stroke="#A5A5A5" stroke-width="1.0" stroke-linecap="square" stroke-linejoin="round"/>
<path d="M505.49 451.25 L504.57 452.50 L503.02 452.50 L502.20 451.38 L502.20 448.62 L503.02 447.50 L504.57 447.50 L505.49 448.75 L505.49 451.25 L506.49 452.50 L508.59 452.50 L509.50 451.25 L509.50 448.75 L508.59 447.50 L506.49 447.50 L505.49 448.75" fill="none" stroke="#A5A5A5" stroke-width="1.0" stroke-linecap="square" stroke-linejoin="round"/>
<path d="M509.50 514.00 L501.90 514.00 L506.84 517.50 L507.79 517.50 L507.79 512.90" fill="none" stroke="#A5A5A5" stroke-width="1.0" stroke-linecap="square" stroke-linejoin="round"/>
<path d="M509.00 476.50 L509.00 485.50 M518.85 478.41 L517.27 476.50 L514.25 476.50 L512.28 478.19 L512.28 483.81 L514.25 485.50 L516.88 485.50 L518.85 483.81 L518.85 482.69 M526.34 485.50 L526.34 476.50 L522.13 482.35 L522.13 483.48 L527.65 483.48 M530.93 485.50 L530.93 476.50 L536.19 476.50 L537.50 477.62 L537.50 479.88 L536.19 481.00 L530.93 481.00" fill="none" stroke="#A5A5A5" stroke-width="1.0" stroke-linecap="square" stroke-linejoin="round"/>
<clipPath id="hc"><circle cx="617.5" cy="587.5" r="12.8"/></clipPath>
<g clip-path="url(#hc)"><rect x="617" y="574" width="14" height="14" fill="#A54B4B"/><rect x="604" y="587" width="14" height="14" fill="#A54B4B"/></g>
<circle cx="617.5" cy="587.5" r="12.3" fill="none" stroke="#A54B4B" stroke-width="1"/>
<circle cx="617.5" cy="587.5" r="3.4" fill="#fff" stroke="none"/>
<circle cx="617.5" cy="587.5" r="3.2" fill="none" stroke="#A54B4B" stroke-width="0.9"/>
<rect x="617" y="584" width="1" height="7" fill="#A54B4B"/>
<rect x="614" y="587" width="7" height="1" fill="#A54B4B"/>
<path d="M630.50 593.12 L631.72 591.60 L634.15 591.60 L635.37 592.69 L635.37 594.86 L634.15 595.95 L632.33 595.95 M634.15 595.95 L635.37 597.04 L635.37 599.21 L634.15 600.30 L631.72 600.30 L630.50 598.78 M638.41 600.30 L638.43 600.30 M641.46 593.34 L641.46 592.69 L642.67 591.60 L645.11 591.60 L646.33 592.69 L646.33 594.64 L641.46 599.21 L641.46 600.30 L646.33 600.30 M649.37 594.86 L649.37 600.30 M649.37 595.95 L650.59 594.86 L651.80 594.86 L653.02 595.95 L653.02 600.30 M653.02 595.95 L654.24 594.86 L655.46 594.86 L656.67 595.95 L656.67 600.30 M659.72 594.86 L659.72 600.30 M659.72 595.95 L660.93 594.86 L662.15 594.86 L663.37 595.95 L663.37 600.30 M663.37 595.95 L664.59 594.86 L665.80 594.86 L667.02 595.95 L667.02 600.30 M676.76 591.60 L676.76 600.30 M676.76 595.95 L677.98 594.86 L680.41 594.86 L681.63 595.95 L681.63 600.30 M685.89 594.86 L688.33 594.86 L689.54 595.95 L689.54 599.21 L688.33 600.30 L685.89 600.30 L684.67 599.21 L684.67 595.95 L685.89 594.86 M692.59 591.60 L692.59 600.30 M695.63 597.58 L700.50 597.58 L700.50 595.95 L699.28 594.86 L696.85 594.86 L695.63 595.95 L695.63 599.21 L696.85 600.30 L700.50 600.30" fill="none" stroke="#A5A5A5" stroke-width="1.0" stroke-linecap="square" stroke-linejoin="round"/>
<rect x="77" y="767" width="1" height="45" fill="#4BA54B"/>
<rect x="77" y="812" width="1" height="45" fill="#A54B4B"/>
<rect x="65" y="829" width="25" height="5" fill="#A54B4B"/>
<rect x="65" y="835" width="25" height="5" fill="#A54B4B"/>
<rect x="77" y="857" width="1" height="16" fill="#4BA54B"/>
<rect x="77" y="873" width="1" height="15" fill="#A54B4B"/>
<rect x="65" y="886" width="24" height="2" fill="#A54B4B"/>
<path d="M70.35 894.39 L68.38 892.80 L65.41 892.80 L63.30 894.39 L63.30 899.71 L65.41 901.30 L68.38 901.30 L70.35 899.81 L70.35 897.58 L66.83 897.58 M73.88 901.30 L73.88 892.80 L80.92 901.30 L80.92 892.80 M84.45 892.80 L89.38 892.80 L91.50 894.39 L91.50 899.71 L89.38 901.30 L84.45 901.30 L84.45 892.80" fill="none" stroke="#A5A5A5" stroke-width="1.0" stroke-linecap="square" stroke-linejoin="round"/>
<path d="M30.40 817.41 L32.20 816.06 M32.20 815.50 L32.20 824.50 M37.95 815.50 L40.34 815.50 L41.54 816.62 L41.54 823.38 L40.34 824.50 L37.95 824.50 L36.75 823.38 L36.75 816.62 L37.95 815.50 M45.73 815.50 L48.13 815.50 L49.33 816.62 L49.33 823.38 L48.13 824.50 L45.73 824.50 L44.54 823.38 L44.54 816.62 L45.73 815.50 M52.32 818.88 L52.32 824.50 M52.32 820.00 L53.52 818.88 L55.92 818.88 L57.12 820.00 L57.12 824.50 M66.10 815.50 L60.11 815.50 L60.11 824.50 M60.11 820.00 L64.30 820.00" fill="none" stroke="#A5A5A5" stroke-width="1.0" stroke-linecap="square" stroke-linejoin="round"/>
<path d="M49.97 848.08 L48.37 846.40 L45.30 846.40 L43.30 847.88 L43.30 852.82 L45.30 854.30 L47.97 854.30 L49.97 852.82 L49.97 851.83 M53.30 848.08 L55.30 846.89 M55.30 846.40 L55.30 854.30 M60.37 847.78 L61.70 846.40 L64.37 846.40 L65.70 847.39 L65.70 849.36 L64.37 850.35 L62.37 850.35 M64.37 850.35 L65.70 851.34 L65.70 853.31 L64.37 854.30 L61.70 854.30 L60.37 852.92" fill="none" stroke="#A5A5A5" stroke-width="1.0" stroke-linecap="square" stroke-linejoin="round"/>
<rect x="77" y="767" width="61" height="1" fill="#4BA54B"/>
<rect x="121" y="764" width="3" height="1" fill="#4BA54B"/>
<rect x="120" y="765" width="5" height="1" fill="#4BA54B"/>
<rect x="119" y="766" width="7" height="3" fill="#4BA54B"/>
<rect x="120" y="769" width="5" height="1" fill="#4BA54B"/>
<rect x="121" y="770" width="3" height="1" fill="#4BA54B"/>
<rect x="138" y="767" width="15" height="1" fill="#A54B4B"/>
<polyline points="152.50,767.50 154.00,761.90 157.80,773.10 161.60,761.90 165.40,773.10 169.20,761.90 173.00,773.10 176.80,761.90 180.60,773.10 182.50,767.50" fill="none" stroke="#A54B4B" stroke-width="1.0" />
<rect x="182" y="767" width="16" height="1" fill="#A54B4B"/>
<rect x="197" y="767" width="31" height="1" fill="#4BA54B"/>
<rect x="211" y="764" width="3" height="1" fill="#4BA54B"/>
<rect x="210" y="765" width="5" height="1" fill="#4BA54B"/>
<rect x="209" y="766" width="7" height="3" fill="#4BA54B"/>
<rect x="210" y="769" width="5" height="1" fill="#4BA54B"/>
<rect x="211" y="770" width="3" height="1" fill="#4BA54B"/>
<rect x="228" y="767" width="17" height="1" fill="#A54B4B"/>
<rect x="245" y="755" width="5" height="25" fill="#A54B4B"/>
<rect x="251" y="755" width="5" height="25" fill="#A54B4B"/>
<rect x="256" y="767" width="17" height="1" fill="#A54B4B"/>
<rect x="272" y="767" width="16" height="1" fill="#4BA54B"/>
<rect x="287" y="767" width="16" height="1" fill="#A54B4B"/>
<polyline points="302.50,767.50 304.00,761.90 307.80,773.10 311.60,761.90 315.40,773.10 319.20,761.90 323.00,773.10 326.80,761.90 330.60,773.10 332.50,767.50" fill="none" stroke="#A54B4B" stroke-width="1.0" />
<rect x="332" y="767" width="16" height="1" fill="#A54B4B"/>
<rect x="347" y="767" width="31" height="1" fill="#4BA54B"/>
<rect x="361" y="764" width="3" height="1" fill="#4BA54B"/>
<rect x="360" y="765" width="5" height="1" fill="#4BA54B"/>
<rect x="359" y="766" width="7" height="3" fill="#4BA54B"/>
<rect x="360" y="769" width="5" height="1" fill="#4BA54B"/>
<rect x="361" y="770" width="3" height="1" fill="#4BA54B"/>
<path d="M169.67 757.40 L169.67 748.70 L165.80 754.36 L165.80 755.44 L170.88 755.44 M173.90 748.70 L178.73 748.70 L178.73 749.79 L175.11 757.40 M181.76 748.70 L181.76 757.40 M187.80 748.70 L181.76 754.68 M183.93 752.83 L187.80 757.40" fill="none" stroke="#A5A5A5" stroke-width="1.0" stroke-linecap="square" stroke-linejoin="round"/>
<path d="M164.20 786.20 L164.20 777.60 L169.44 777.60 L170.76 778.68 L170.76 780.83 L169.44 781.90 L164.20 781.90 M167.48 781.90 L170.76 786.20 M174.03 779.32 L174.03 778.68 L175.34 777.60 L177.97 777.60 L179.28 778.68 L179.28 780.61 L174.03 785.12 L174.03 786.20 L179.28 786.20 M187.80 778.68 L186.49 777.60 L183.87 777.60 L182.56 778.68 L182.56 785.12 L183.87 786.20 L186.49 786.20 L187.80 785.12 L187.80 782.98 L186.49 781.90 L182.56 781.90" fill="none" stroke="#A5A5A5" stroke-width="1.0" stroke-linecap="square" stroke-linejoin="round"/>
<path d="M228.88 743.16 L227.35 741.50 L224.41 741.50 L222.50 742.96 L222.50 747.84 L224.41 749.30 L226.97 749.30 L228.88 747.84 L228.88 746.86 M232.07 743.16 L233.99 741.99 M233.99 741.50 L233.99 749.30 M242.92 749.30 L242.92 741.50 L238.84 746.57 L238.84 747.54 L244.20 747.54" fill="none" stroke="#A5A5A5" stroke-width="1.0" stroke-linecap="square" stroke-linejoin="round"/>
<path d="M253.40 742.51 L255.21 741.23 M255.21 740.70 L255.21 749.20 M260.99 740.70 L263.40 740.70 L264.60 741.76 L264.60 748.14 L263.40 749.20 L260.99 749.20 L259.78 748.14 L259.78 741.76 L260.99 740.70 M268.82 740.70 L271.23 740.70 L272.43 741.76 L272.43 748.14 L271.23 749.20 L268.82 749.20 L267.62 748.14 L267.62 741.76 L268.82 740.70 M275.45 743.89 L275.45 749.20 M275.45 744.95 L276.65 743.89 L279.06 743.89 L280.26 744.95 L280.26 749.20 M289.30 740.70 L283.28 740.70 L283.28 749.20 M283.28 744.95 L287.49 744.95" fill="none" stroke="#A5A5A5" stroke-width="1.0" stroke-linecap="square" stroke-linejoin="round"/>
<path d="M316.40 750.74 L318.30 749.51 M318.30 749.00 L318.30 757.20 M324.39 749.00 L326.92 749.00 L328.19 750.02 L328.19 756.18 L326.92 757.20 L324.39 757.20 L323.12 756.18 L323.12 750.02 L324.39 749.00 M331.36 749.00 L331.36 757.20 M337.70 749.00 L331.36 754.64 M333.64 752.89 L337.70 757.20" fill="none" stroke="#A5A5A5" stroke-width="1.0" stroke-linecap="square" stroke-linejoin="round"/>
<path d="M314.20 786.10 L314.20 777.80 L319.42 777.80 L320.73 778.84 L320.73 780.91 L319.42 781.95 L314.20 781.95 M317.46 781.95 L320.73 786.10 M323.99 779.46 L323.99 778.84 L325.30 777.80 L327.91 777.80 L329.21 778.84 L329.21 780.70 L323.99 785.06 L323.99 786.10 L329.21 786.10 M333.78 781.53 L332.48 780.50 L332.48 778.73 L333.65 777.80 L336.52 777.80 L337.70 778.73 L337.70 780.50 L336.39 781.53 L333.78 781.53 L332.48 782.68 L332.48 785.06 L333.78 786.10 L336.39 786.10 L337.70 785.06 L337.70 782.68 L336.39 781.53" fill="none" stroke="#A5A5A5" stroke-width="1.0" stroke-linecap="square" stroke-linejoin="round"/>
<rect x="212" y="661" width="1" height="17" fill="#A54B4B"/>
<rect x="206" y="668" width="12" height="2" fill="#A54B4B"/>
<polyline points="207.00,668.50 212.50,661.00 218.00,668.50" fill="none" stroke="#A54B4B" stroke-width="2.0" />
<path d="M195.70 648.50 L195.70 650.11 L198.99 657.10 L202.28 650.11 L202.28 648.50 M205.21 653.88 L210.50 653.88 M207.86 651.19 L207.86 656.56" fill="none" stroke="#A5A5A5" stroke-width="1.0" stroke-linecap="square" stroke-linejoin="round"/>
<rect x="212" y="677" width="1" height="16" fill="#4BA54B"/>
<rect x="212" y="692" width="1" height="16" fill="#A54B4B"/>
<polyline points="212.50,707.50 218.10,709.00 206.90,712.80 218.10,716.60 206.90,720.40 218.10,724.20 206.90,728.00 218.10,731.80 206.90,735.60 212.50,737.50" fill="none" stroke="#A54B4B" stroke-width="1.0" />
<rect x="212" y="737" width="1" height="16" fill="#A54B4B"/>
<rect x="212" y="752" width="1" height="16" fill="#4BA54B"/>
<path d="M202.80 718.96 L194.70 718.96 L199.97 722.90 L200.98 722.90 L200.98 717.73 M194.70 714.65 L202.80 714.65 M194.70 708.50 L200.27 714.65 M198.55 712.44 L202.80 708.50 M194.70 705.42 L194.70 700.50 L195.71 700.50 L202.80 704.19" fill="none" stroke="#A5A5A5" stroke-width="1.0" stroke-linecap="square" stroke-linejoin="round"/>
<path d="M230.50 723.20 L222.00 723.20 L222.00 718.38 L223.06 717.17 L225.19 717.17 L226.25 718.38 L226.25 723.20 M226.25 720.19 L230.50 717.17 M223.70 714.16 L223.06 714.16 L222.00 712.95 L222.00 710.54 L223.06 709.34 L224.97 709.34 L229.44 714.16 L230.50 714.16 L230.50 709.34 M222.00 706.32 L222.00 701.50 L223.06 701.50 L230.50 705.12" fill="none" stroke="#A5A5A5" stroke-width="1.0" stroke-linecap="square" stroke-linejoin="round"/>
<rect x="122" y="767" width="1" height="31" fill="#4BA54B"/>
<rect x="122" y="797" width="1" height="16" fill="#A54B4B"/>
<rect x="134" y="812" width="5" height="31" fill="#A54B4B"/>
<polyline points="122.50,812.50 134.00,818.50" fill="none" stroke="#A54B4B" stroke-width="1.2" />
<polygon points="122,812 131.3,812 127.9,819.2" fill="#A54B4B"/>
<polyline points="134.00,836.50 122.50,842.50" fill="none" stroke="#A54B4B" stroke-width="1.2" />
<rect x="122" y="842" width="1" height="16" fill="#A54B4B"/>
<rect x="139" y="827" width="14" height="1" fill="#A54B4B"/>
<rect x="152" y="827" width="31" height="1" fill="#4BA54B"/>
<rect x="182" y="827" width="14" height="1" fill="#A54B4B"/>
<rect x="212" y="767" width="1" height="31" fill="#4BA54B"/>
<rect x="212" y="797" width="1" height="16" fill="#A54B4B"/>
<rect x="196" y="812" width="5" height="31" fill="#A54B4B"/>
<polyline points="201.00,817.80 212.50,812.50" fill="none" stroke="#A54B4B" stroke-width="1.2" />
<polyline points="201.00,836.30 212.50,842.50" fill="none" stroke="#A54B4B" stroke-width="1.2" />
<polygon points="204.2,843 213,843 207.6,835.8" fill="#A54B4B"/>
<rect x="212" y="842" width="1" height="16" fill="#A54B4B"/>
<rect x="212" y="857" width="1" height="16" fill="#4BA54B"/>
<rect x="212" y="873" width="1" height="15" fill="#A54B4B"/>
<rect x="200" y="886" width="24" height="2" fill="#A54B4B"/>
<path d="M205.35 894.39 L203.38 892.80 L200.42 892.80 L198.30 894.39 L198.30 899.71 L200.42 901.30 L203.38 901.30 L205.35 899.81 L205.35 897.58 L201.83 897.58 M208.88 901.30 L208.88 892.80 L215.93 901.30 L215.93 892.80 M219.45 892.80 L224.38 892.80 L226.50 894.39 L226.50 899.71 L224.38 901.30 L219.45 901.30 L219.45 892.80" fill="none" stroke="#A5A5A5" stroke-width="1.0" stroke-linecap="square" stroke-linejoin="round"/>
<path d="M136.54 799.30 L139.13 799.30 L141.08 800.78 L141.08 805.72 L139.13 807.20 L136.54 807.20 L134.60 805.72 L134.60 800.78 L136.54 799.30 M137.71 805.42 L140.04 807.60 M144.32 800.88 L144.32 800.29 L145.61 799.30 L148.20 799.30 L149.50 800.29 L149.50 802.06 L144.32 806.21 L144.32 807.20 L149.50 807.20" fill="none" stroke="#A5A5A5" stroke-width="1.0" stroke-linecap="square" stroke-linejoin="round"/>
<path d="M181.66 799.30 L184.27 799.30 L186.22 800.78 L186.22 805.72 L184.27 807.20 L181.66 807.20 L179.70 805.72 L179.70 800.78 L181.66 799.30 M182.83 805.42 L185.18 807.60 M189.48 800.68 L190.79 799.30 L193.40 799.30 L194.70 800.29 L194.70 802.26 L193.40 803.25 L191.44 803.25 M193.40 803.25 L194.70 804.24 L194.70 806.21 L193.40 807.20 L190.79 807.20 L189.48 805.82" fill="none" stroke="#A5A5A5" stroke-width="1.0" stroke-linecap="square" stroke-linejoin="round"/>
<path d="M107.54 856.50 L106.89 856.50 L105.80 855.29 L105.80 852.86 L106.89 851.65 L108.84 851.65 L113.41 856.50 L114.50 856.50 L114.50 851.65 M114.50 848.62 L105.80 848.62 L114.50 842.56 L105.80 842.56 M107.32 839.53 L105.80 838.32 L105.80 835.89 L106.89 834.68 L109.06 834.68 L110.15 835.89 L110.15 837.71 M110.15 835.89 L111.24 834.68 L113.41 834.68 L114.50 835.89 L114.50 838.32 L112.98 839.53 M110.15 826.80 L110.15 830.44 L109.06 831.65 L106.89 831.65 L105.80 830.44 L105.80 828.01 L106.89 826.80 L113.41 826.80 L114.50 828.01 L114.50 830.44 L113.41 831.65 M105.80 822.56 L105.80 820.13 L106.89 818.92 L113.41 818.92 L114.50 820.13 L114.50 822.56 L113.41 823.77 L106.89 823.77 L105.80 822.56 M114.50 812.01 L105.80 812.01 L111.45 815.89 L112.54 815.89 L112.54 810.80" fill="none" stroke="#A5A5A5" stroke-width="1.0" stroke-linecap="square" stroke-linejoin="round"/>
<path d="M222.54 858.20 L221.89 858.20 L220.80 857.00 L220.80 854.60 L221.89 853.40 L223.84 853.40 L228.41 858.20 L229.50 858.20 L229.50 853.40 M229.50 850.41 L220.80 850.41 L229.50 844.41 L220.80 844.41 M222.32 841.41 L220.80 840.22 L220.80 837.82 L221.89 836.62 L224.06 836.62 L225.15 837.82 L225.15 839.62 M225.15 837.82 L226.24 836.62 L228.41 836.62 L229.50 837.82 L229.50 840.22 L227.98 841.41 M225.15 828.83 L225.15 832.42 L224.06 833.62 L221.89 833.62 L220.80 832.42 L220.80 830.02 L221.89 828.83 L228.41 828.83 L229.50 830.02 L229.50 832.42 L228.41 833.62 M220.80 824.63 L220.80 822.23 L221.89 821.03 L228.41 821.03 L229.50 822.23 L229.50 824.63 L228.41 825.83 L221.89 825.83 L220.80 824.63 M229.50 814.20 L220.80 814.20 L226.46 818.04 L227.54 818.04 L227.54 813.00" fill="none" stroke="#A5A5A5" stroke-width="1.0" stroke-linecap="square" stroke-linejoin="round"/>
<rect x="391" y="751" width="3" height="63" fill="#A54B4B"/>
<polyline points="393.00,752.00 452.00,782.50 393.00,813.00" fill="none" stroke="#A54B4B" stroke-width="3.0" stroke-linejoin="miter"/>
<rect x="377" y="767" width="15" height="1" fill="#A54B4B"/>
<rect x="377" y="797" width="15" height="1" fill="#A54B4B"/>
<rect x="452" y="782" width="16" height="1" fill="#A54B4B"/>
<rect x="396" y="767" width="8" height="1" fill="#A54B4B"/>
<rect x="396" y="797" width="8" height="1" fill="#A54B4B"/>
<rect x="400" y="793" width="1" height="9" fill="#A54B4B"/>
<path d="M400.10 778.90 L400.10 787.50 M409.68 780.73 L408.15 778.90 L405.21 778.90 L403.29 780.51 L403.29 785.89 L405.21 787.50 L407.77 787.50 L409.68 785.89 L409.68 784.81 M416.96 787.50 L416.96 778.90 L412.88 784.49 L412.88 785.56 L418.24 785.56 M421.43 787.50 L422.46 787.50 L422.71 784.81 L424.76 778.90 L425.78 778.90 L427.82 784.81 L428.08 787.50 L429.10 787.50 M422.71 784.81 L427.82 784.81" fill="none" stroke="#A5A5A5" stroke-width="1.0" stroke-linecap="square" stroke-linejoin="round"/>
<path d="M431.00 805.90 L436.79 805.90 M433.90 805.90 L433.90 814.30 M439.69 805.90 L439.69 814.30 L444.90 814.30 M448.96 805.90 L451.28 805.90 L452.44 806.95 L452.44 813.25 L451.28 814.30 L448.96 814.30 L447.80 813.25 L447.80 806.95 L448.96 805.90 M455.33 805.90 L459.97 805.90 L459.97 806.95 L456.49 814.30 M462.87 807.58 L462.87 806.95 L464.02 805.90 L466.34 805.90 L467.50 806.95 L467.50 808.84 L462.87 813.25 L462.87 814.30 L467.50 814.30" fill="none" stroke="#A5A5A5" stroke-width="1.0" stroke-linecap="square" stroke-linejoin="round"/>
<path d="M383.50 759.70 L383.50 759.25 L384.75 758.50 L387.25 758.50 L388.50 759.25 L388.50 760.60 L383.50 763.75 L383.50 764.50 L388.50 764.50" fill="none" stroke="#A5A5A5" stroke-width="1.0" stroke-linecap="square" stroke-linejoin="round"/>
<path d="M383.50 789.55 L384.75 788.50 L387.25 788.50 L388.50 789.25 L388.50 790.75 L387.25 791.50 L385.38 791.50 M387.25 791.50 L388.50 792.25 L388.50 793.75 L387.25 794.50 L384.75 794.50 L383.50 793.45" fill="none" stroke="#A5A5A5" stroke-width="1.0" stroke-linecap="square" stroke-linejoin="round"/>
<path d="M455.50 774.69 L458.50 773.85 M458.50 773.50 L458.50 779.10" fill="none" stroke="#A5A5A5" stroke-width="1.0" stroke-linecap="square" stroke-linejoin="round"/>
<rect x="362" y="692" width="1" height="76" fill="#4BA54B"/>
<rect x="361" y="734" width="3" height="1" fill="#4BA54B"/>
<rect x="360" y="735" width="5" height="1" fill="#4BA54B"/>
<rect x="359" y="736" width="7" height="3" fill="#4BA54B"/>
<rect x="360" y="739" width="5" height="1" fill="#4BA54B"/>
<rect x="361" y="740" width="3" height="1" fill="#4BA54B"/>
<rect x="362" y="692" width="31" height="1" fill="#4BA54B"/>
<rect x="392" y="692" width="16" height="1" fill="#A54B4B"/>
<polyline points="407.50,692.50 409.00,686.90 412.80,698.10 416.60,686.90 420.40,698.10 424.20,686.90 428.00,698.10 431.80,686.90 435.60,698.10 437.50,692.50" fill="none" stroke="#A54B4B" stroke-width="1.0" />
<rect x="437" y="692" width="16" height="1" fill="#A54B4B"/>
<rect x="452" y="692" width="91" height="1" fill="#4BA54B"/>
<rect x="542" y="692" width="1" height="91" fill="#4BA54B"/>
<rect x="541" y="764" width="3" height="1" fill="#4BA54B"/>
<rect x="540" y="765" width="5" height="1" fill="#4BA54B"/>
<rect x="539" y="766" width="7" height="3" fill="#4BA54B"/>
<rect x="540" y="769" width="5" height="1" fill="#4BA54B"/>
<rect x="541" y="770" width="3" height="1" fill="#4BA54B"/>
<path d="M412.90 675.88 L414.84 674.62 M414.84 674.10 L414.84 682.50 M421.07 674.10 L423.66 674.10 L424.95 675.15 L424.95 681.45 L423.66 682.50 L421.07 682.50 L419.77 681.45 L419.77 675.15 L421.07 674.10 M429.49 674.10 L432.08 674.10 L433.38 675.15 L433.38 681.45 L432.08 682.50 L429.49 682.50 L428.19 681.45 L428.19 675.15 L429.49 674.10 M436.62 674.10 L436.62 682.50 M443.10 674.10 L436.62 679.88 M438.95 678.09 L443.10 682.50" fill="none" stroke="#A5A5A5" stroke-width="1.0" stroke-linecap="square" stroke-linejoin="round"/>
<path d="M418.90 711.50 L418.90 702.90 L424.28 702.90 L425.62 703.98 L425.62 706.12 L424.28 707.20 L418.90 707.20 M422.26 707.20 L425.62 711.50 M428.98 704.62 L428.98 703.98 L430.33 702.90 L433.02 702.90 L434.36 703.98 L434.36 705.91 L428.98 710.42 L428.98 711.50 L434.36 711.50 M443.10 707.20 L439.07 707.20 L437.72 706.12 L437.72 703.98 L439.07 702.90 L441.76 702.90 L443.10 703.98 L443.10 710.42 L441.76 711.50 L439.07 711.50 L437.72 710.42" fill="none" stroke="#A5A5A5" stroke-width="1.0" stroke-linecap="square" stroke-linejoin="round"/>
<rect x="362" y="737" width="46" height="1" fill="#4BA54B"/>
<rect x="408" y="737" width="7" height="1" fill="#A54B4B"/>
<rect x="414" y="728" width="2" height="17" fill="#A54B4B"/>
<rect x="429" y="728" width="2" height="17" fill="#A54B4B"/>
<polyline points="430.00,729.00 417.00,737.50 430.00,744.50" fill="none" stroke="#A54B4B" stroke-width="2.4" />
<rect x="430" y="737" width="8" height="1" fill="#A54B4B"/>
<rect x="437" y="737" width="46" height="1" fill="#4BA54B"/>
<rect x="482" y="737" width="1" height="46" fill="#4BA54B"/>
<path d="M440.93 729.10 L440.93 720.90 L436.90 726.23 L436.90 727.25 L442.19 727.25 M445.34 722.64 L447.23 721.41 M447.23 720.90 L447.23 729.10 M456.05 729.10 L456.05 720.90 L452.02 726.23 L452.02 727.25 L457.31 727.25 M461.72 724.59 L460.46 723.56 L460.46 721.82 L461.59 720.90 L464.37 720.90 L465.50 721.82 L465.50 723.56 L464.24 724.59 L461.72 724.59 L460.46 725.72 L460.46 728.08 L461.72 729.10 L464.24 729.10 L465.50 728.08 L465.50 725.72 L464.24 724.59" fill="none" stroke="#A5A5A5" stroke-width="1.0" stroke-linecap="square" stroke-linejoin="round"/>
<path d="M436.50 745.50 L441.07 745.50 L443.02 746.92 L443.02 751.68 L441.07 753.10 L436.50 753.10 L436.50 745.50 M447.59 748.92 L446.28 747.97 L446.28 746.36 L447.46 745.50 L450.33 745.50 L451.50 746.36 L451.50 747.97 L450.20 748.92 L447.59 748.92 L446.28 749.97 L446.28 752.15 L447.59 753.10 L450.20 753.10 L451.50 752.15 L451.50 749.97 L450.20 748.92" fill="none" stroke="#A5A5A5" stroke-width="1.0" stroke-linecap="square" stroke-linejoin="round"/>
<rect x="467" y="782" width="31" height="1" fill="#4BA54B"/>
<rect x="481" y="779" width="3" height="1" fill="#4BA54B"/>
<rect x="480" y="780" width="5" height="1" fill="#4BA54B"/>
<rect x="479" y="781" width="7" height="3" fill="#4BA54B"/>
<rect x="480" y="784" width="5" height="1" fill="#4BA54B"/>
<rect x="481" y="785" width="3" height="1" fill="#4BA54B"/>
<rect x="498" y="782" width="7" height="1" fill="#A54B4B"/>
<rect x="504" y="773" width="2" height="17" fill="#A54B4B"/>
<rect x="519" y="773" width="2" height="17" fill="#A54B4B"/>
<polyline points="520.00,774.00 507.00,782.50 520.00,789.50" fill="none" stroke="#A54B4B" stroke-width="2.4" />
<rect x="521" y="782" width="7" height="1" fill="#A54B4B"/>
<rect x="527" y="782" width="16" height="1" fill="#4BA54B"/>
<path d="M493.45 771.10 L493.45 762.90 L489.50 768.23 L489.50 769.25 L494.68 769.25 M497.76 764.64 L499.61 763.41 M499.61 762.90 L499.61 771.10 M508.25 771.10 L508.25 762.90 L504.30 768.23 L504.30 769.25 L509.48 769.25 M513.80 766.59 L512.57 765.56 L512.57 763.82 L513.68 762.90 L516.39 762.90 L517.50 763.82 L517.50 765.56 L516.27 766.59 L513.80 766.59 L512.57 767.72 L512.57 770.08 L513.80 771.10 L516.27 771.10 L517.50 770.08 L517.50 767.72 L516.27 766.59" fill="none" stroke="#A5A5A5" stroke-width="1.0" stroke-linecap="square" stroke-linejoin="round"/>
<path d="M489.50 793.50 L494.07 793.50 L496.02 794.92 L496.02 799.68 L494.07 801.10 L489.50 801.10 L489.50 793.50 M504.50 797.30 L500.59 797.30 L499.28 796.35 L499.28 794.45 L500.59 793.50 L503.20 793.50 L504.50 794.45 L504.50 800.15 L503.20 801.10 L500.59 801.10 L499.28 800.15" fill="none" stroke="#A5A5A5" stroke-width="1.0" stroke-linecap="square" stroke-linejoin="round"/>
<rect x="362" y="797" width="16" height="1" fill="#4BA54B"/>
<rect x="362" y="797" width="1" height="76" fill="#4BA54B"/>
<rect x="362" y="873" width="1" height="15" fill="#A54B4B"/>
<rect x="350" y="886" width="24" height="2" fill="#A54B4B"/>
<path d="M355.35 894.39 L353.38 892.80 L350.42 892.80 L348.30 894.39 L348.30 899.71 L350.42 901.30 L353.38 901.30 L355.35 899.81 L355.35 897.58 L351.82 897.58 M358.88 901.30 L358.88 892.80 L365.93 901.30 L365.93 892.80 M369.45 892.80 L374.38 892.80 L376.50 894.39 L376.50 899.71 L374.38 901.30 L369.45 901.30 L369.45 892.80" fill="none" stroke="#A5A5A5" stroke-width="1.0" stroke-linecap="square" stroke-linejoin="round"/>
<rect x="542" y="767" width="16" height="1" fill="#4BA54B"/>
<rect x="557" y="767" width="16" height="1" fill="#A54B4B"/>
<polyline points="572.50,767.50 574.00,761.90 577.80,773.10 581.60,761.90 585.40,773.10 589.20,761.90 593.00,773.10 596.80,761.90 600.60,773.10 602.50,767.50" fill="none" stroke="#A54B4B" stroke-width="1.0" />
<rect x="602" y="767" width="16" height="1" fill="#A54B4B"/>
<rect x="617" y="767" width="31" height="1" fill="#4BA54B"/>
<rect x="631" y="764" width="3" height="1" fill="#4BA54B"/>
<rect x="630" y="765" width="5" height="1" fill="#4BA54B"/>
<rect x="629" y="766" width="7" height="3" fill="#4BA54B"/>
<rect x="630" y="769" width="5" height="1" fill="#4BA54B"/>
<rect x="631" y="770" width="3" height="1" fill="#4BA54B"/>
<rect x="647" y="767" width="15" height="1" fill="#A54B4B"/>
<rect x="662" y="762.5" width="30" height="8.5" fill="none" stroke="#A54B4B" stroke-width="2"/>
<rect x="693" y="767" width="15" height="1" fill="#A54B4B"/>
<rect x="707" y="767" width="31" height="1" fill="#4BA54B"/>
<rect x="721" y="764" width="3" height="1" fill="#4BA54B"/>
<rect x="720" y="765" width="5" height="1" fill="#4BA54B"/>
<rect x="719" y="766" width="7" height="3" fill="#4BA54B"/>
<rect x="720" y="769" width="5" height="1" fill="#4BA54B"/>
<rect x="721" y="770" width="3" height="1" fill="#4BA54B"/>
<rect x="677" y="776" width="1" height="22" fill="#A54B4B"/>
<polyline points="677.50,776.50 692.00,753.50" fill="none" stroke="#A54B4B" stroke-width="1.2" />
<polyline points="689.50,751.50 692.00,753.50 697.00,757.00" fill="none" stroke="#A54B4B" stroke-width="1.2" />
<rect x="632" y="797" width="46" height="1" fill="#4BA54B"/>
<rect x="632" y="767" width="1" height="31" fill="#4BA54B"/>
<path d="M648.70 751.26 L650.70 750.51 M650.70 750.20 L650.70 755.20" fill="none" stroke="#A54B4B" stroke-width="1.4" stroke-linecap="square" stroke-linejoin="round"/>
<path d="M675.70 751.09 L676.48 750.20 L678.03 750.20 L678.80 750.84 L678.80 752.11 L678.03 752.75 L676.86 752.75 M678.03 752.75 L678.80 753.39 L678.80 754.66 L678.03 755.30 L676.48 755.30 L675.70 754.41" fill="none" stroke="#A54B4B" stroke-width="1.4" stroke-linecap="square" stroke-linejoin="round"/>
<rect x="656" y="752" width="15" height="1" fill="#A54B4B"/>
<polygon points="663.50,748.50 663.50,756.50 671.00,752.50" fill="none" stroke="#A54B4B" stroke-width="1.0" />
<path d="M654.80 759.18 L657.00 758.21 M657.00 757.80 L657.00 764.30" fill="none" stroke="#A5A5A5" stroke-width="1.0" stroke-linecap="square" stroke-linejoin="round"/>
<path d="M695.50 759.22 L696.50 758.20 L698.50 758.20 L699.50 758.93 L699.50 760.38 L698.50 761.10 L697.00 761.10 M698.50 761.10 L699.50 761.83 L699.50 763.27 L698.50 764.00 L696.50 764.00 L695.50 762.99" fill="none" stroke="#A5A5A5" stroke-width="1.0" stroke-linecap="square" stroke-linejoin="round"/>
<path d="M668.42 790.00 L667.85 790.00 L666.90 788.88 L666.90 786.62 L667.85 785.50 L669.56 785.50 L673.55 790.00 L674.50 790.00 L674.50 785.50" fill="none" stroke="#A5A5A5" stroke-width="1.0" stroke-linecap="square" stroke-linejoin="round"/>
<path d="M682.30 781.00 L682.30 782.41 L685.56 788.50 L688.82 782.41 L688.82 781.00 M691.73 788.50 L691.73 781.00 L696.38 781.00 L697.55 781.94 L697.55 783.81 L696.38 784.75 L691.73 784.75 M694.64 784.75 L697.55 788.50 M700.45 782.59 L702.20 781.47 M702.20 781.00 L702.20 788.50" fill="none" stroke="#A5A5A5" stroke-width="1.0" stroke-linecap="square" stroke-linejoin="round"/>
<path d="M659.72 736.50 L655.50 736.50 L655.50 739.39 L658.67 739.39 L659.72 740.21 L659.72 742.27 L658.67 743.10 L656.56 743.10 L655.50 742.27 M663.42 736.50 L665.53 736.50 L666.58 737.33 L666.58 742.27 L665.53 743.10 L663.42 743.10 L662.36 742.27 L662.36 737.33 L663.42 736.50 M669.22 736.50 L669.22 743.10 M674.50 736.50 L669.22 741.04 M671.12 739.63 L674.50 743.10" fill="none" stroke="#A5A5A5" stroke-width="1.0" stroke-linecap="square" stroke-linejoin="round"/>
<path d="M586.00 750.92 L587.94 749.71 M587.94 749.20 L587.94 757.30 M594.14 749.20 L596.72 749.20 L598.01 750.21 L598.01 756.29 L596.72 757.30 L594.14 757.30 L592.85 756.29 L592.85 750.21 L594.14 749.20 M601.24 749.20 L601.24 757.30 M607.70 749.20 L601.24 754.77 M603.57 753.05 L607.70 757.30" fill="none" stroke="#A5A5A5" stroke-width="1.0" stroke-linecap="square" stroke-linejoin="round"/>
<path d="M584.10 785.90 L584.10 777.20 L589.34 777.20 L590.66 778.29 L590.66 780.46 L589.34 781.55 L584.10 781.55 M587.38 781.55 L590.66 785.90 M593.93 778.72 L595.24 777.20 L597.87 777.20 L599.18 778.29 L599.18 780.46 L597.87 781.55 L595.90 781.55 M597.87 781.55 L599.18 782.64 L599.18 784.81 L597.87 785.90 L595.24 785.90 L593.93 784.38 M603.77 777.20 L606.39 777.20 L607.70 778.29 L607.70 784.81 L606.39 785.90 L603.77 785.90 L602.46 784.81 L602.46 778.29 L603.77 777.20" fill="none" stroke="#A5A5A5" stroke-width="1.0" stroke-linecap="square" stroke-linejoin="round"/>
<rect x="751" y="751" width="3" height="63" fill="#A54B4B"/>
<polyline points="753.00,752.00 812.00,782.50 753.00,813.00" fill="none" stroke="#A54B4B" stroke-width="3.0" stroke-linejoin="miter"/>
<rect x="737" y="767" width="15" height="1" fill="#A54B4B"/>
<rect x="737" y="797" width="15" height="1" fill="#A54B4B"/>
<rect x="812" y="782" width="16" height="1" fill="#A54B4B"/>
<rect x="756" y="767" width="8" height="1" fill="#A54B4B"/>
<rect x="756" y="797" width="8" height="1" fill="#A54B4B"/>
<rect x="760" y="793" width="1" height="9" fill="#A54B4B"/>
<path d="M760.10 778.90 L760.10 787.50 M770.12 780.73 L768.52 778.90 L765.45 778.90 L763.44 780.51 L763.44 785.89 L765.45 787.50 L768.12 787.50 L770.12 785.89 L770.12 784.81 M777.74 787.50 L777.74 778.90 L773.46 784.49 L773.46 785.56 L779.08 785.56 M782.42 787.50 L782.42 778.90 L787.76 778.90 L789.10 779.98 L789.10 782.12 L787.76 783.20 L782.42 783.20 M787.76 783.20 L789.10 784.27 L789.10 786.42 L787.76 787.50 L782.42 787.50" fill="none" stroke="#A5A5A5" stroke-width="1.0" stroke-linecap="square" stroke-linejoin="round"/>
<path d="M791.00 805.90 L796.79 805.90 M793.90 805.90 L793.90 814.30 M799.69 805.90 L799.69 814.30 L804.90 814.30 M808.96 805.90 L811.28 805.90 L812.44 806.95 L812.44 813.25 L811.28 814.30 L808.96 814.30 L807.80 813.25 L807.80 806.95 L808.96 805.90 M815.33 805.90 L819.97 805.90 L819.97 806.95 L816.49 814.30 M822.87 807.58 L822.87 806.95 L824.02 805.90 L826.34 805.90 L827.50 806.95 L827.50 808.84 L822.87 813.25 L822.87 814.30 L827.50 814.30" fill="none" stroke="#A5A5A5" stroke-width="1.0" stroke-linecap="square" stroke-linejoin="round"/>
<path d="M749.10 758.31 L747.88 757.50 L745.43 757.50 L744.20 758.31 L744.20 763.19 L745.43 764.00 L747.88 764.00 L749.10 763.19 L749.10 761.56 L747.88 760.75 L744.20 760.75" fill="none" stroke="#A5A5A5" stroke-width="1.0" stroke-linecap="square" stroke-linejoin="round"/>
<path d="M749.10 788.20 L744.20 788.20 L744.20 790.87 L747.88 790.87 L749.10 791.63 L749.10 793.54 L747.88 794.30 L745.43 794.30 L744.20 793.54" fill="none" stroke="#A5A5A5" stroke-width="1.0" stroke-linecap="square" stroke-linejoin="round"/>
<path d="M815.90 772.80 L820.50 772.80 L820.50 773.56 L817.05 778.90" fill="none" stroke="#A5A5A5" stroke-width="1.0" stroke-linecap="square" stroke-linejoin="round"/>
<rect x="722" y="692" width="1" height="76" fill="#4BA54B"/>
<rect x="721" y="734" width="3" height="1" fill="#4BA54B"/>
<rect x="720" y="735" width="5" height="1" fill="#4BA54B"/>
<rect x="719" y="736" width="7" height="3" fill="#4BA54B"/>
<rect x="720" y="739" width="5" height="1" fill="#4BA54B"/>
<rect x="721" y="740" width="3" height="1" fill="#4BA54B"/>
<rect x="722" y="692" width="31" height="1" fill="#4BA54B"/>
<rect x="752" y="692" width="16" height="1" fill="#A54B4B"/>
<polyline points="767.50,692.50 769.00,686.90 772.80,698.10 776.60,686.90 780.40,698.10 784.20,686.90 788.00,698.10 791.80,686.90 795.60,698.10 797.50,692.50" fill="none" stroke="#A54B4B" stroke-width="1.0" />
<rect x="797" y="692" width="16" height="1" fill="#A54B4B"/>
<rect x="812" y="692" width="122" height="1" fill="#4BA54B"/>
<rect x="933" y="692" width="1" height="91" fill="#4BA54B"/>
<rect x="932" y="779" width="3" height="1" fill="#4BA54B"/>
<rect x="931" y="780" width="5" height="1" fill="#4BA54B"/>
<rect x="930" y="781" width="7" height="3" fill="#4BA54B"/>
<rect x="931" y="784" width="5" height="1" fill="#4BA54B"/>
<rect x="932" y="785" width="3" height="1" fill="#4BA54B"/>
<path d="M772.60 675.81 L774.54 674.53 M774.54 674.00 L774.54 682.50 M784.65 674.00 L779.47 674.00 L779.47 677.72 L783.36 677.72 L784.65 678.78 L784.65 681.44 L783.36 682.50 L780.77 682.50 L779.47 681.44 M789.19 674.00 L791.78 674.00 L793.08 675.06 L793.08 681.44 L791.78 682.50 L789.19 682.50 L787.89 681.44 L787.89 675.06 L789.19 674.00 M796.32 674.00 L796.32 682.50 M802.80 674.00 L796.32 679.84 M798.65 678.04 L802.80 682.50" fill="none" stroke="#A5A5A5" stroke-width="1.0" stroke-linecap="square" stroke-linejoin="round"/>
<path d="M779.20 711.50 L779.20 703.10 L785.06 703.10 L786.52 704.15 L786.52 706.25 L785.06 707.30 L779.20 707.30 M782.86 707.30 L786.52 711.50 M790.18 704.57 L791.65 703.10 L794.58 703.10 L796.04 704.15 L796.04 706.25 L794.58 707.30 L792.38 707.30 M794.58 707.30 L796.04 708.35 L796.04 710.45 L794.58 711.50 L791.65 711.50 L790.18 710.03 M799.70 704.88 L801.90 703.62 M801.90 703.10 L801.90 711.50" fill="none" stroke="#A5A5A5" stroke-width="1.0" stroke-linecap="square" stroke-linejoin="round"/>
<rect x="722" y="737" width="31" height="1" fill="#4BA54B"/>
<rect x="752" y="737" width="18" height="1" fill="#A54B4B"/>
<rect x="770" y="725" width="5" height="25" fill="#A54B4B"/>
<rect x="776" y="725" width="5" height="25" fill="#A54B4B"/>
<rect x="781" y="737" width="17" height="1" fill="#A54B4B"/>
<rect x="797" y="737" width="46" height="1" fill="#4BA54B"/>
<rect x="842" y="737" width="1" height="46" fill="#4BA54B"/>
<path d="M746.11 720.21 L744.41 718.40 L741.13 718.40 L739.00 719.99 L739.00 725.31 L741.13 726.90 L743.98 726.90 L746.11 725.31 L746.11 724.24 M749.67 720.21 L751.80 718.93 M751.80 718.40 L751.80 726.90 M762.90 718.40 L757.21 718.40 L757.21 722.12 L761.48 722.12 L762.90 723.18 L762.90 725.84 L761.48 726.90 L758.63 726.90 L757.21 725.84" fill="none" stroke="#A5A5A5" stroke-width="1.0" stroke-linecap="square" stroke-linejoin="round"/>
<path d="M795.96 726.90 L795.96 718.40 L792.20 723.92 L792.20 724.99 L797.13 724.99 M800.07 718.40 L804.76 718.40 L804.76 719.46 L801.24 726.90 M807.70 721.59 L807.70 729.56 M807.70 722.65 L808.87 721.59 L811.22 721.59 L812.39 722.65 L812.39 725.84 L811.22 726.90 L807.70 726.90 M821.20 718.40 L815.33 718.40 L815.33 726.90 M815.33 722.65 L819.44 722.65" fill="none" stroke="#A5A5A5" stroke-width="1.0" stroke-linecap="square" stroke-linejoin="round"/>
<rect x="827" y="782" width="31" height="1" fill="#4BA54B"/>
<rect x="841" y="779" width="3" height="1" fill="#4BA54B"/>
<rect x="840" y="780" width="5" height="1" fill="#4BA54B"/>
<rect x="839" y="781" width="7" height="3" fill="#4BA54B"/>
<rect x="840" y="784" width="5" height="1" fill="#4BA54B"/>
<rect x="841" y="785" width="3" height="1" fill="#4BA54B"/>
<rect x="857" y="782" width="16" height="1" fill="#A54B4B"/>
<polyline points="872.50,782.50 874.00,776.90 877.80,788.10 881.60,776.90 885.40,788.10 889.20,776.90 893.00,788.10 896.80,776.90 900.60,788.10 902.50,782.50" fill="none" stroke="#A54B4B" stroke-width="1.0" />
<rect x="903" y="782" width="15" height="1" fill="#A54B4B"/>
<rect x="918" y="782" width="31" height="1" fill="#4BA54B"/>
<rect x="949" y="782" width="14" height="1" fill="#A54B4B"/>
<path d="M894.40 766.20 L896.31 765.00 M896.31 764.50 L896.31 772.50 M901.14 764.50 L901.14 772.50 M907.50 764.50 L901.14 770.00 M903.43 768.30 L907.50 772.50" fill="none" stroke="#A5A5A5" stroke-width="1.0" stroke-linecap="square" stroke-linejoin="round"/>
<path d="M884.40 801.30 L884.40 792.90 L889.64 792.90 L890.96 793.95 L890.96 796.05 L889.64 797.10 L884.40 797.10 M887.68 797.10 L890.96 801.30 M894.23 794.37 L895.54 792.90 L898.17 792.90 L899.48 793.95 L899.48 796.05 L898.17 797.10 L896.20 797.10 M898.17 797.10 L899.48 798.15 L899.48 800.25 L898.17 801.30 L895.54 801.30 L894.23 799.83 M902.76 794.58 L902.76 793.95 L904.07 792.90 L906.69 792.90 L908.00 793.95 L908.00 795.84 L902.76 800.25 L902.76 801.30 L908.00 801.30" fill="none" stroke="#A5A5A5" stroke-width="1.0" stroke-linecap="square" stroke-linejoin="round"/>
<rect x="722" y="797" width="16" height="1" fill="#4BA54B"/>
<rect x="722" y="797" width="1" height="76" fill="#4BA54B"/>
<rect x="722" y="873" width="1" height="15" fill="#A54B4B"/>
<rect x="710" y="886" width="24" height="2" fill="#A54B4B"/>
<path d="M715.35 894.39 L713.38 892.80 L710.41 892.80 L708.30 894.39 L708.30 899.71 L710.41 901.30 L713.38 901.30 L715.35 899.81 L715.35 897.58 L711.82 897.58 M718.88 901.30 L718.88 892.80 L725.92 901.30 L725.92 892.80 M729.45 892.80 L734.38 892.80 L736.50 894.39 L736.50 899.71 L734.38 901.30 L729.45 901.30 L729.45 892.80" fill="none" stroke="#A5A5A5" stroke-width="1.0" stroke-linecap="square" stroke-linejoin="round"/>
<rect x="962" y="766" width="92" height="2" fill="#A54B4B"/>
<rect x="962" y="826" width="92" height="2" fill="#A54B4B"/>
<rect x="962" y="766" width="2" height="62" fill="#A54B4B"/>
<rect x="1052" y="766" width="2" height="62" fill="#A54B4B"/>
<rect x="1053" y="781" width="16" height="2" fill="#A54B4B"/>
<rect x="1053" y="811" width="16" height="2" fill="#A54B4B"/>
<rect x="1067" y="781" width="2" height="32" fill="#A54B4B"/>
<rect x="949" y="812" width="14" height="1" fill="#A54B4B"/>
<rect x="1038" y="827" width="1" height="16" fill="#A54B4B"/>
<rect x="1038" y="842" width="1" height="31" fill="#4BA54B"/>
<rect x="1038" y="873" width="1" height="15" fill="#A54B4B"/>
<rect x="1026" y="886" width="24" height="2" fill="#A54B4B"/>
<path d="M1030.35 894.39 L1028.38 892.80 L1025.41 892.80 L1023.30 894.39 L1023.30 899.71 L1025.41 901.30 L1028.38 901.30 L1030.35 899.81 L1030.35 897.58 L1026.83 897.58 M1033.88 901.30 L1033.88 892.80 L1040.92 901.30 L1040.92 892.80 M1044.45 892.80 L1049.38 892.80 L1051.50 894.39 L1051.50 899.71 L1049.38 901.30 L1044.45 901.30 L1044.45 892.80" fill="none" stroke="#A5A5A5" stroke-width="1.0" stroke-linecap="square" stroke-linejoin="round"/>
<path d="M967.28 752.90 L970.06 752.90 M968.78 752.90 L968.78 758.33 L967.71 759.10 L965.57 759.10 L964.50 758.17 M976.80 756.00 L973.59 756.00 L972.52 755.23 L972.52 753.67 L973.59 752.90 L975.73 752.90 L976.80 753.67 L976.80 758.33 L975.73 759.10 L973.59 759.10 L972.52 758.33" fill="none" stroke="#A5A5A5" stroke-width="1.0" stroke-linecap="square" stroke-linejoin="round"/>
<path d="M1021.50 759.10 L1021.50 752.90 L1026.47 759.10 L1026.47 752.90 M1030.44 752.90 L1032.43 752.90 L1033.92 754.06 L1033.92 757.94 L1032.43 759.10 L1030.44 759.10 L1028.95 757.94 L1028.95 754.06 L1030.44 752.90 M1036.40 752.90 L1036.40 759.10 M1043.85 753.67 L1042.86 752.90 L1039.88 752.90 L1038.88 753.67 L1038.88 755.23 L1039.88 756.00 L1042.86 756.00 L1043.85 756.77 L1043.85 758.33 L1042.86 759.10 L1039.88 759.10 L1038.88 758.33 M1051.30 752.90 L1046.33 752.90 L1046.33 759.10 L1051.30 759.10 M1046.33 756.00 L1049.81 756.00" fill="none" stroke="#A5A5A5" stroke-width="1.0" stroke-linecap="square" stroke-linejoin="round"/>
<path d="M976.90 777.40 L982.20 777.40 M979.55 777.40 L979.55 785.30" fill="none" stroke="#A5A5A5" stroke-width="1.0" stroke-linecap="square" stroke-linejoin="round"/>
<path d="M976.90 807.40 L982.10 807.40 M979.50 807.40 L979.50 815.30 M989.90 808.39 L988.86 807.40 L985.74 807.40 L984.70 808.39 L984.70 810.36 L985.74 811.35 L988.86 811.35 L989.90 812.34 L989.90 814.31 L988.86 815.30 L985.74 815.30 L984.70 814.31" fill="none" stroke="#A5A5A5" stroke-width="1.0" stroke-linecap="square" stroke-linejoin="round"/>
<path d="M1035.04 805.00 L1033.50 806.93 L1033.50 809.83 L1035.04 811.90 L1040.16 811.90 L1041.70 809.83 L1041.70 806.93 L1040.27 805.00 L1038.11 805.00 L1038.11 808.45" fill="none" stroke="#A5A5A5" stroke-width="1.0" stroke-linecap="square" stroke-linejoin="round"/>
<path d="M953.50 774.22 L953.50 773.73 L954.75 772.90 L957.25 772.90 L958.50 773.73 L958.50 775.21 L953.50 778.67 L953.50 779.50 L958.50 779.50" fill="none" stroke="#A5A5A5" stroke-width="1.0" stroke-linecap="square" stroke-linejoin="round"/>
<path d="M953.50 803.89 L954.75 802.70 L957.25 802.70 L958.50 803.55 L958.50 805.25 L957.25 806.10 L955.38 806.10 M957.25 806.10 L958.50 806.95 L958.50 808.65 L957.25 809.50 L954.75 809.50 L953.50 808.31" fill="none" stroke="#A5A5A5" stroke-width="1.0" stroke-linecap="square" stroke-linejoin="round"/>
<path d="M1028.49 834.50 L1027.37 832.30 M1026.90 832.30 L1034.40 832.30" fill="none" stroke="#A5A5A5" stroke-width="1.0" stroke-linecap="square" stroke-linejoin="round"/>
<path d="M715.42 35.60 L714.03 33.65 L711.60 33.00 L708.82 33.00 L706.39 33.65 L705.17 35.27 L705.17 37.23 L706.39 38.52 L708.47 39.17 L712.29 39.99 L714.38 40.80 L715.42 42.42 L715.42 43.89 L714.03 45.35 L711.60 46.00 L708.82 46.00 L706.39 45.35 L705.00 43.24 M719.41 33.00 L724.79 40.15 L730.18 33.00 M724.79 40.15 L724.79 46.00 M734.17 46.00 L734.17 33.00 L744.24 46.00 L744.24 33.00 M759.00 36.58 L757.61 33.98 L755.01 33.00 L752.75 33.00 L749.97 34.14 L748.41 36.90 L748.23 39.50 L748.41 42.10 L749.97 44.86 L752.75 46.00 L755.01 46.00 L757.61 45.02 L759.00 42.59" fill="none" stroke="#A5A5A5" stroke-width="2" stroke-linecap="square" stroke-linejoin="round"/>
<path d="M768.30 33.00 L778.54 33.00 M773.42 33.00 L773.42 46.00 M782.60 33.00 L782.60 46.00 M792.49 33.00 L792.49 46.00 M782.60 39.34 L792.49 39.34 M796.55 33.00 L802.02 40.15 L807.49 33.00 M802.02 40.15 L802.02 46.00 M811.55 46.00 L811.55 33.00 L821.79 46.00 L821.79 33.00 M836.80 36.58 L835.39 33.98 L832.74 33.00 L830.44 33.00 L827.62 34.14 L826.03 36.90 L825.85 39.50 L826.03 42.10 L827.62 44.86 L830.44 46.00 L832.74 46.00 L835.39 45.02 L836.80 42.59" fill="none" stroke="#A5A5A5" stroke-width="2" stroke-linecap="square" stroke-linejoin="round"/>
<path d="M858.49 33.00 L848.30 33.00 L848.30 46.00 L858.85 46.00 M848.30 39.34 L857.76 39.34 M862.67 33.00 L862.67 42.10 L863.76 44.86 L866.31 46.00 L869.58 46.00 L872.13 44.86 L873.22 42.10 L873.22 33.00 M877.40 46.00 L877.40 33.00 L885.40 33.00 L887.40 33.81 L888.31 35.44 L888.31 37.55 L887.40 39.01 L885.40 39.83 L877.40 39.83 M885.40 39.83 L887.40 40.96 L888.13 42.75 L888.31 46.00 M897.22 33.00 L899.77 33.00 L902.68 34.30 L904.32 37.06 L904.50 39.50 L904.32 41.94 L902.68 44.70 L899.77 46.00 L897.22 46.00 L894.31 44.70 L892.68 41.94 L892.50 39.50 L892.68 37.06 L894.31 34.30 L897.22 33.00" fill="none" stroke="#A5A5A5" stroke-width="2" stroke-linecap="square" stroke-linejoin="round"/>
<path d="M914.00 33.00 L919.28 46.00 L924.57 33.00 M928.62 36.25 L930.91 35.27 L932.50 33.98 L933.20 33.00 L933.20 46.00" fill="none" stroke="#A5A5A5" stroke-width="2" stroke-linecap="square" stroke-linejoin="round"/>
<path d="M946.40 36.25 L947.90 35.27 L948.94 33.98 L949.40 33.00 L949.40 46.00" fill="none" stroke="#A5A5A5" stroke-width="2" stroke-linecap="square" stroke-linejoin="round"/>
<path d="M973.55 33.00 L964.40 33.00 L964.40 46.00 L973.87 46.00 M964.40 39.34 L972.89 39.34 M977.30 33.00 L987.10 46.00 M987.10 33.00 L977.30 46.00" fill="none" stroke="#A5A5A5" stroke-width="2" stroke-linecap="square" stroke-linejoin="round"/>
<path d="M997.60 46.00 L997.60 33.00 L1005.46 33.00 L1007.42 33.81 L1008.32 35.44 L1008.32 37.55 L1007.42 39.01 L1005.46 39.83 L997.60 39.83 M1005.46 39.83 L1007.42 40.96 L1008.14 42.75 L1008.32 46.00 M1022.43 33.00 L1012.42 33.00 L1012.42 46.00 L1022.78 46.00 M1012.42 39.34 L1021.71 39.34 M1026.53 33.00 L1031.89 46.00 L1037.25 33.00 M1041.36 36.25 L1043.68 35.27 L1045.29 33.98 L1046.00 33.00 L1046.00 46.00" fill="none" stroke="#A5A5A5" stroke-width="2" stroke-linecap="square" stroke-linejoin="round"/>
<path d="M1059.54 33.00 L1061.16 33.00 L1063.27 34.30 L1064.24 37.23 L1064.40 39.50 L1064.24 41.77 L1063.27 44.70 L1061.16 46.00 L1059.54 46.00 L1057.43 44.70 L1056.46 41.77 L1056.30 39.50 L1056.46 37.23 L1057.43 34.30 L1059.54 33.00" fill="none" stroke="#A5A5A5" stroke-width="2" stroke-linecap="square" stroke-linejoin="round"/>
<rect x="940" y="45" width="2" height="2" fill="#A5A5A5"/>
<rect x="1052" y="45" width="2" height="2" fill="#A5A5A5"/>
</svg>
</body></html>
